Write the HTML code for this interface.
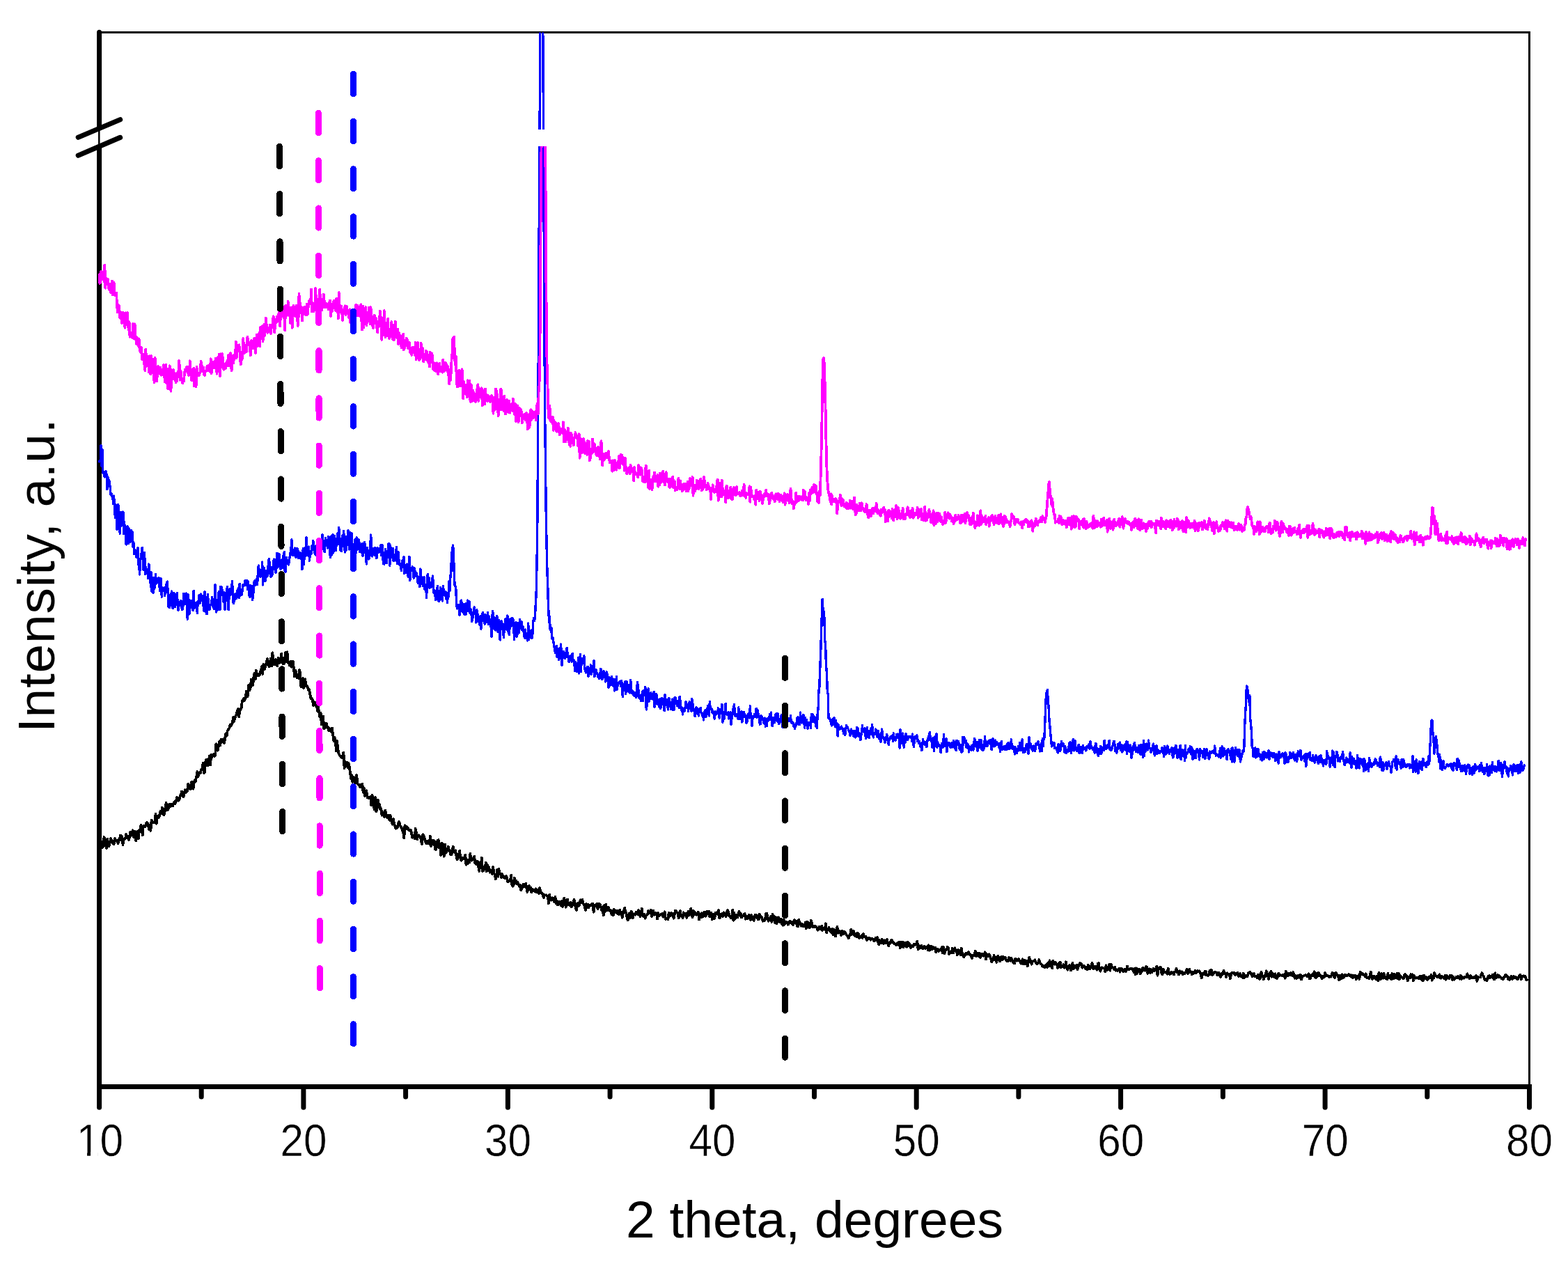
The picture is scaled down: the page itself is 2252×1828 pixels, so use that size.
<!DOCTYPE html>
<html lang="en"><head><meta charset="utf-8"><title>XRD patterns</title>
<style>html,body{margin:0;padding:0;background:#fff;overflow:hidden;}svg{display:block;}text{font-family:"Liberation Sans",sans-serif;fill:#000;}</style></head><body>
<svg width="2252" height="1828" viewBox="0 0 2252 1828" role="img" aria-label="XRD patterns: intensity versus 2 theta">
<rect width="2252" height="1828" fill="#fff"/>
<g stroke="#000" fill="none">
<line x1="144" y1="46.5" x2="2198" y2="46.5" stroke-width="3"/>
<line x1="2196.5" y1="45" x2="2196.5" y2="1560" stroke-width="3"/>
<line x1="142.6" y1="46.3" x2="142.6" y2="1590.3" stroke-width="7" stroke-linecap="round"/>
<line x1="142.6" y1="1560.5" x2="2200" y2="1560.5" stroke-width="7"/>
<line x1="289.2" y1="1560.5" x2="289.2" y2="1575.0" stroke-width="7" stroke-linecap="round"/>
<line x1="435.9" y1="1560.5" x2="435.9" y2="1590.3" stroke-width="7" stroke-linecap="round"/>
<line x1="582.6" y1="1560.5" x2="582.6" y2="1575.0" stroke-width="7" stroke-linecap="round"/>
<line x1="729.4" y1="1560.5" x2="729.4" y2="1590.3" stroke-width="7" stroke-linecap="round"/>
<line x1="876.1" y1="1560.5" x2="876.1" y2="1575.0" stroke-width="7" stroke-linecap="round"/>
<line x1="1022.8" y1="1560.5" x2="1022.8" y2="1590.3" stroke-width="7" stroke-linecap="round"/>
<line x1="1169.5" y1="1560.5" x2="1169.5" y2="1575.0" stroke-width="7" stroke-linecap="round"/>
<line x1="1316.2" y1="1560.5" x2="1316.2" y2="1590.3" stroke-width="7" stroke-linecap="round"/>
<line x1="1462.9" y1="1560.5" x2="1462.9" y2="1575.0" stroke-width="7" stroke-linecap="round"/>
<line x1="1609.6" y1="1560.5" x2="1609.6" y2="1590.3" stroke-width="7" stroke-linecap="round"/>
<line x1="1756.4" y1="1560.5" x2="1756.4" y2="1575.0" stroke-width="7" stroke-linecap="round"/>
<line x1="1903.1" y1="1560.5" x2="1903.1" y2="1590.3" stroke-width="7" stroke-linecap="round"/>
<line x1="2049.8" y1="1560.5" x2="2049.8" y2="1575.0" stroke-width="7" stroke-linecap="round"/>
<line x1="2196.5" y1="1560.5" x2="2196.5" y2="1590.3" stroke-width="7" stroke-linecap="round"/>
</g>
<polygon points="138,186.5 148,182.3 148,208 138,212.3" fill="#fff"/>
<line x1="142.3" y1="180" x2="142.3" y2="215" stroke="#000" stroke-width="2.5"/>
<g stroke="#000" stroke-width="7.2" stroke-linecap="round">
<line x1="112.3" y1="197.2" x2="172.6" y2="171.7"/>
<line x1="112.3" y1="223.2" x2="172.6" y2="197.4"/>
</g>
<defs><clipPath id="plot"><rect x="139" y="46.5" width="2059" height="1514"/></clipPath></defs>
<g clip-path="url(#plot)" fill="none" stroke-linejoin="round" stroke-linecap="round" shape-rendering="crispEdges">
<polyline stroke="#000" stroke-width="3.8" points="142.5,1217.7 143.7,1211.7 144.8,1207.9 146.0,1215.9 147.2,1216.9 148.4,1214.8 149.5,1202.1 150.7,1205.5 151.9,1214.3 153.1,1217.8 154.2,1204.8 155.4,1215.0 156.6,1215.3 157.8,1210.3 158.9,1204.2 160.1,1206.9 161.3,1207.7 162.5,1211.9 163.6,1212.5 164.8,1204.1 166.0,1207.6 167.1,1207.5 168.3,1206.6 169.5,1211.1 170.7,1205.5 171.8,1206.0 173.0,1199.5 174.2,1206.2 175.4,1201.1 176.5,1213.1 177.7,1205.1 178.9,1204.9 180.1,1204.1 181.2,1198.1 182.4,1200.9 183.6,1202.9 184.8,1206.0 185.9,1202.5 187.1,1195.2 188.3,1199.7 189.4,1199.6 190.6,1192.2 191.8,1201.6 193.0,1202.1 194.1,1194.0 195.3,1207.3 196.5,1198.3 197.7,1193.6 198.8,1204.3 200.0,1192.1 201.2,1194.6 202.4,1184.9 203.5,1187.3 204.7,1199.3 205.9,1186.0 207.1,1185.8 208.2,1187.5 209.4,1184.0 210.6,1181.2 211.7,1181.4 212.9,1184.4 214.1,1191.2 215.3,1186.9 216.4,1192.9 217.6,1177.5 218.8,1181.4 220.0,1180.9 221.1,1181.1 222.3,1181.1 223.5,1168.8 224.7,1182.7 225.8,1174.8 227.0,1171.6 228.2,1174.1 229.4,1169.1 230.5,1165.0 231.7,1168.1 232.9,1159.7 234.0,1162.5 235.2,1170.2 236.4,1167.9 237.6,1159.2 238.7,1153.0 239.9,1163.3 241.1,1163.2 242.3,1160.0 243.4,1154.5 244.6,1158.4 245.8,1155.2 247.0,1156.7 248.1,1157.4 249.3,1153.4 250.5,1151.4 251.7,1153.8 252.8,1151.3 254.0,1144.7 255.2,1147.2 256.4,1149.7 257.5,1148.1 258.7,1142.5 259.9,1142.1 261.0,1136.5 262.2,1141.5 263.4,1144.4 264.6,1139.9 265.7,1134.4 266.9,1138.5 268.1,1134.2 269.3,1136.0 270.4,1125.5 271.6,1128.3 272.8,1132.8 274.0,1133.1 275.1,1122.5 276.3,1122.5 277.5,1132.7 278.7,1123.9 279.8,1120.0 281.0,1121.7 282.2,1115.1 283.3,1108.1 284.5,1115.0 285.7,1111.6 286.9,1108.8 288.0,1110.3 289.2,1104.3 290.4,1104.6 291.6,1096.1 292.7,1109.8 293.9,1109.3 295.1,1094.7 296.3,1090.6 297.4,1098.8 298.6,1099.0 299.8,1090.8 301.0,1085.5 302.1,1098.6 303.3,1083.8 304.5,1087.3 305.6,1084.9 306.8,1083.1 308.0,1086.0 309.2,1084.7 310.3,1068.3 311.5,1073.3 312.7,1077.7 313.9,1071.1 315.0,1065.0 316.2,1070.5 317.4,1062.0 318.6,1061.9 319.7,1065.3 320.9,1062.0 322.1,1067.0 323.3,1058.9 324.4,1053.4 325.6,1056.8 326.8,1049.2 327.9,1047.8 329.1,1046.2 330.3,1041.2 331.5,1042.7 332.6,1040.1 333.8,1038.1 335.0,1030.0 336.2,1035.9 337.3,1031.3 338.5,1027.8 339.7,1025.6 340.9,1020.7 342.0,1018.3 343.2,1029.6 344.4,1018.4 345.6,1019.1 346.7,1016.3 347.9,1006.3 349.1,1007.0 350.2,1002.5 351.4,1005.7 352.6,1002.4 353.8,992.9 354.9,1000.7 356.1,998.2 357.3,983.7 358.5,991.0 359.6,988.4 360.8,975.7 362.0,976.8 363.2,983.9 364.3,972.5 365.5,966.6 366.7,975.5 367.9,962.8 369.0,970.5 370.2,970.5 371.4,967.8 372.5,969.9 373.7,964.9 374.9,962.5 376.1,956.5 377.2,967.8 378.4,954.1 379.6,961.3 380.8,957.8 381.9,954.9 383.1,949.1 384.3,946.0 385.5,954.0 386.6,957.3 387.8,953.1 389.0,945.6 390.2,956.6 391.3,937.3 392.5,949.2 393.7,954.4 394.8,954.4 396.0,947.1 397.2,954.0 398.4,956.4 399.5,944.7 400.7,952.0 401.9,945.9 403.1,951.5 404.2,938.9 405.4,949.9 406.6,953.1 407.8,952.9 408.9,947.6 410.1,936.7 411.3,950.1 412.5,936.4 413.6,951.0 414.8,952.2 416.0,955.6 417.1,949.7 418.3,957.7 419.5,953.1 420.7,949.9 421.8,958.6 423.0,971.6 424.2,962.7 425.4,965.1 426.5,973.3 427.7,972.2 428.9,974.1 430.1,962.0 431.2,967.5 432.4,986.3 433.6,977.4 434.8,974.0 435.9,987.9 437.1,985.7 438.3,975.4 439.4,984.8 440.6,984.5 441.8,986.4 443.0,991.2 444.1,989.9 445.3,997.0 446.5,1002.9 447.7,1002.6 448.8,1004.6 450.0,1013.0 451.2,1008.3 452.4,1012.7 453.5,1009.3 454.7,1009.7 455.9,1021.0 457.1,1015.1 458.2,1023.2 459.4,1029.4 460.6,1023.9 461.8,1040.1 462.9,1036.9 464.1,1028.5 465.3,1046.3 466.4,1039.6 467.6,1044.8 468.8,1038.5 470.0,1045.1 471.1,1044.1 472.3,1049.4 473.5,1046.3 474.7,1049.7 475.8,1050.8 477.0,1045.5 478.2,1055.4 479.4,1064.2 480.5,1058.8 481.7,1062.6 482.9,1078.2 484.1,1064.1 485.2,1075.0 486.4,1081.4 487.6,1084.6 488.7,1085.8 489.9,1087.6 491.1,1087.8 492.3,1084.4 493.4,1080.5 494.6,1103.2 495.8,1094.0 497.0,1098.7 498.1,1094.5 499.3,1101.9 500.5,1096.0 501.7,1101.0 502.8,1108.1 504.0,1118.2 505.2,1113.3 506.4,1123.0 507.5,1115.5 508.7,1116.9 509.9,1125.2 511.0,1119.3 512.2,1113.2 513.4,1125.3 514.6,1126.4 515.7,1126.9 516.9,1129.9 518.1,1127.3 519.3,1130.3 520.4,1125.5 521.6,1137.7 522.8,1131.8 524.0,1143.3 525.1,1138.9 526.3,1135.4 527.5,1145.0 528.7,1144.6 529.8,1146.5 531.0,1145.9 532.2,1144.1 533.3,1156.2 534.5,1141.7 535.7,1145.7 536.9,1159.1 538.0,1162.6 539.2,1145.1 540.4,1165.4 541.6,1160.7 542.7,1148.4 543.9,1156.5 545.1,1155.4 546.3,1162.7 547.4,1161.9 548.6,1170.9 549.8,1166.7 551.0,1171.3 552.1,1173.1 553.3,1163.5 554.5,1169.5 555.6,1173.9 556.8,1174.2 558.0,1170.5 559.2,1177.7 560.3,1170.4 561.5,1174.5 562.7,1181.6 563.9,1183.6 565.0,1176.0 566.2,1183.7 567.4,1186.6 568.6,1189.7 569.7,1189.2 570.9,1187.8 572.1,1182.5 573.3,1180.1 574.4,1185.2 575.6,1186.8 576.8,1188.8 577.9,1193.1 579.1,1195.2 580.3,1203.4 581.5,1185.4 582.6,1190.0 583.8,1186.6 585.0,1190.0 586.2,1189.2 587.3,1192.3 588.5,1192.8 589.7,1191.6 590.9,1194.9 592.0,1202.6 593.2,1202.6 594.4,1199.3 595.6,1204.4 596.7,1190.0 597.9,1196.0 599.1,1205.5 600.2,1200.0 601.4,1199.3 602.6,1200.9 603.8,1201.3 604.9,1207.7 606.1,1211.9 607.3,1198.3 608.5,1200.2 609.6,1203.4 610.8,1208.2 612.0,1211.0 613.2,1207.8 614.3,1210.8 615.5,1208.0 616.7,1211.9 617.9,1200.5 619.0,1214.8 620.2,1212.1 621.4,1206.8 622.5,1212.6 623.7,1207.3 624.9,1219.5 626.1,1219.9 627.2,1215.6 628.4,1207.2 629.6,1206.2 630.8,1217.1 631.9,1211.7 633.1,1227.8 634.3,1211.1 635.5,1211.3 636.6,1223.9 637.8,1229.8 639.0,1212.4 640.2,1224.9 641.3,1223.4 642.5,1220.0 643.7,1215.9 644.8,1219.5 646.0,1221.4 647.2,1226.9 648.4,1227.3 649.5,1223.4 650.7,1215.8 651.9,1222.9 653.1,1223.9 654.2,1221.4 655.4,1229.0 656.6,1234.2 657.8,1231.8 658.9,1227.1 660.1,1221.6 661.3,1232.2 662.5,1235.8 663.6,1231.9 664.8,1232.1 666.0,1233.3 667.2,1231.6 668.3,1227.6 669.5,1241.8 670.7,1238.9 671.8,1240.5 673.0,1234.6 674.2,1238.4 675.4,1225.9 676.5,1235.1 677.7,1235.6 678.9,1232.7 680.1,1233.0 681.2,1229.7 682.4,1239.8 683.6,1239.4 684.8,1241.4 685.9,1236.6 687.1,1244.1 688.3,1250.8 689.5,1239.0 690.6,1244.8 691.8,1231.4 693.0,1251.2 694.1,1250.5 695.3,1244.5 696.5,1248.1 697.7,1238.5 698.8,1251.2 700.0,1242.0 701.2,1245.6 702.4,1245.3 703.5,1252.6 704.7,1250.0 705.9,1250.7 707.1,1255.1 708.2,1245.2 709.4,1253.6 710.6,1256.3 711.8,1262.2 712.9,1258.9 714.1,1249.1 715.3,1258.7 716.4,1248.0 717.6,1253.7 718.8,1254.5 720.0,1259.7 721.1,1255.2 722.3,1257.3 723.5,1260.2 724.7,1259.3 725.8,1261.2 727.0,1257.8 728.2,1261.2 729.4,1266.4 730.5,1265.7 731.7,1264.7 732.9,1265.0 734.1,1256.5 735.2,1270.0 736.4,1272.7 737.6,1271.6 738.7,1260.7 739.9,1264.3 741.1,1264.7 742.3,1269.3 743.4,1266.5 744.6,1270.2 745.8,1273.0 747.0,1270.8 748.1,1278.3 749.3,1276.7 750.5,1273.3 751.7,1269.9 752.8,1273.5 754.0,1271.3 755.2,1268.7 756.4,1275.4 757.5,1280.9 758.7,1273.9 759.9,1272.1 761.0,1277.0 762.2,1274.5 763.4,1281.6 764.6,1277.0 765.7,1278.9 766.9,1278.2 768.1,1279.9 769.3,1276.3 770.4,1281.1 771.6,1277.9 772.8,1278.3 774.0,1283.1 775.1,1275.0 776.3,1279.5 777.5,1282.0 778.7,1282.6 779.8,1286.1 781.0,1289.3 782.2,1285.2 783.3,1285.5 784.5,1285.3 785.7,1286.4 786.9,1286.4 788.0,1297.4 789.2,1284.7 790.4,1292.2 791.6,1292.7 792.7,1292.0 793.9,1289.4 795.1,1292.6 796.3,1295.5 797.4,1288.0 798.6,1297.0 799.8,1293.7 801.0,1299.5 802.1,1294.4 803.3,1295.0 804.5,1295.5 805.6,1300.3 806.8,1294.1 808.0,1301.9 809.2,1297.2 810.3,1289.7 811.5,1295.6 812.7,1302.8 813.9,1296.9 815.0,1291.6 816.2,1299.2 817.4,1296.5 818.6,1300.0 819.7,1295.6 820.9,1302.2 822.1,1299.7 823.3,1297.8 824.4,1292.0 825.6,1295.7 826.8,1304.0 827.9,1307.1 829.1,1300.5 830.3,1297.1 831.5,1300.9 832.6,1296.6 833.8,1292.3 835.0,1296.6 836.2,1291.4 837.3,1297.3 838.5,1298.8 839.7,1301.7 840.9,1307.1 842.0,1297.7 843.2,1303.1 844.4,1298.8 845.6,1303.0 846.7,1300.4 847.9,1300.2 849.1,1299.8 850.2,1297.4 851.4,1297.4 852.6,1309.7 853.8,1299.7 854.9,1301.4 856.1,1299.4 857.3,1297.6 858.5,1305.2 859.6,1299.9 860.8,1297.8 862.0,1299.1 863.2,1303.3 864.3,1307.6 865.5,1302.4 866.7,1314.2 867.9,1300.2 869.0,1309.4 870.2,1298.9 871.4,1305.5 872.6,1307.1 873.7,1302.6 874.9,1307.3 876.1,1308.0 877.2,1307.0 878.4,1312.9 879.6,1307.9 880.8,1314.2 881.9,1305.4 883.1,1310.5 884.3,1309.5 885.5,1307.9 886.6,1311.7 887.8,1308.1 889.0,1313.0 890.2,1306.6 891.3,1311.5 892.5,1309.9 893.7,1317.7 894.9,1311.9 896.0,1307.5 897.2,1303.8 898.4,1310.1 899.5,1311.1 900.7,1318.9 901.9,1321.3 903.1,1312.6 904.2,1311.4 905.4,1318.0 906.6,1308.5 907.8,1311.0 908.9,1318.5 910.1,1312.9 911.3,1313.3 912.5,1313.6 913.6,1310.0 914.8,1310.9 916.0,1313.1 917.2,1307.1 918.3,1312.0 919.5,1316.1 920.7,1312.8 921.8,1304.6 923.0,1314.0 924.2,1316.6 925.4,1312.7 926.5,1318.8 927.7,1314.8 928.9,1314.2 930.1,1312.2 931.2,1307.9 932.4,1309.8 933.6,1311.5 934.8,1306.8 935.9,1315.9 937.1,1309.6 938.3,1307.6 939.5,1313.7 940.6,1310.7 941.8,1310.5 943.0,1311.7 944.1,1319.6 945.3,1311.2 946.5,1315.2 947.7,1314.4 948.8,1313.1 950.0,1312.8 951.2,1311.5 952.4,1316.7 953.5,1315.4 954.7,1309.3 955.9,1319.9 957.1,1318.7 958.2,1319.3 959.4,1320.2 960.6,1310.9 961.8,1314.1 962.9,1315.1 964.1,1310.9 965.3,1314.7 966.4,1311.6 967.6,1318.9 968.8,1313.1 970.0,1307.4 971.1,1308.4 972.3,1310.5 973.5,1311.0 974.7,1318.1 975.8,1310.4 977.0,1308.2 978.2,1315.4 979.4,1316.0 980.5,1318.2 981.7,1310.2 982.9,1312.5 984.1,1311.5 985.2,1315.0 986.4,1318.0 987.6,1312.0 988.7,1308.7 989.9,1313.9 991.1,1308.7 992.3,1304.9 993.4,1314.6 994.6,1317.0 995.8,1307.4 997.0,1313.6 998.1,1309.9 999.3,1311.1 1000.5,1313.8 1001.7,1312.3 1002.8,1309.6 1004.0,1320.5 1005.2,1313.0 1006.4,1317.3 1007.5,1311.2 1008.7,1316.7 1009.9,1315.6 1011.0,1310.4 1012.2,1309.5 1013.4,1315.7 1014.6,1313.5 1015.7,1308.5 1016.9,1309.5 1018.1,1308.5 1019.3,1316.5 1020.4,1315.6 1021.6,1311.0 1022.8,1320.2 1024.0,1312.7 1025.1,1316.3 1026.3,1319.1 1027.5,1310.6 1028.7,1311.3 1029.8,1310.0 1031.0,1313.1 1032.2,1307.2 1033.3,1318.6 1034.5,1316.5 1035.7,1313.5 1036.9,1312.3 1038.0,1316.1 1039.2,1310.3 1040.4,1311.1 1041.6,1313.4 1042.7,1316.0 1043.9,1309.5 1045.1,1306.9 1046.3,1310.0 1047.4,1315.6 1048.6,1316.7 1049.8,1318.5 1051.0,1318.5 1052.1,1306.5 1053.3,1321.8 1054.5,1310.8 1055.6,1319.9 1056.8,1315.5 1058.0,1313.8 1059.2,1317.2 1060.3,1312.8 1061.5,1308.7 1062.7,1314.6 1063.9,1311.7 1065.0,1317.6 1066.2,1315.7 1067.4,1315.1 1068.6,1313.0 1069.7,1312.2 1070.9,1319.7 1072.1,1315.7 1073.3,1319.0 1074.4,1318.8 1075.6,1314.1 1076.8,1315.9 1078.0,1321.1 1079.1,1314.1 1080.3,1316.9 1081.5,1320.2 1082.6,1321.9 1083.8,1315.2 1085.0,1313.6 1086.2,1317.7 1087.3,1314.9 1088.5,1320.5 1089.7,1320.5 1090.9,1312.4 1092.0,1317.7 1093.2,1315.9 1094.4,1318.7 1095.6,1322.8 1096.7,1320.6 1097.9,1322.4 1099.1,1319.5 1100.3,1311.5 1101.4,1311.7 1102.6,1318.9 1103.8,1322.7 1104.9,1319.3 1106.1,1321.1 1107.3,1315.6 1108.5,1323.9 1109.6,1313.0 1110.8,1316.7 1112.0,1316.2 1113.2,1325.2 1114.3,1317.1 1115.5,1326.1 1116.7,1321.6 1117.9,1317.3 1119.0,1319.1 1120.2,1324.6 1121.4,1319.9 1122.6,1326.8 1123.7,1320.9 1124.9,1328.7 1126.1,1321.1 1127.2,1327.1 1128.4,1324.2 1129.6,1323.8 1130.8,1325.3 1131.9,1327.6 1133.1,1325.5 1134.3,1322.8 1135.5,1325.0 1136.6,1325.9 1137.8,1323.6 1139.0,1328.3 1140.2,1322.5 1141.3,1321.2 1142.5,1325.8 1143.7,1322.6 1144.9,1329.4 1146.0,1330.6 1147.2,1320.4 1148.4,1327.0 1149.5,1326.1 1150.7,1329.6 1151.9,1326.8 1153.1,1330.4 1154.2,1327.7 1155.4,1330.4 1156.6,1325.0 1157.8,1333.2 1158.9,1323.4 1160.1,1324.1 1161.3,1330.1 1162.5,1332.4 1163.6,1330.4 1164.8,1321.9 1166.0,1325.4 1167.2,1331.0 1168.3,1330.6 1169.5,1331.1 1170.7,1329.9 1171.8,1330.3 1173.0,1331.8 1174.2,1335.7 1175.4,1334.1 1176.5,1330.5 1177.7,1334.3 1178.9,1333.5 1180.1,1329.7 1181.2,1336.0 1182.4,1333.7 1183.6,1332.5 1184.8,1335.0 1185.9,1326.3 1187.1,1339.5 1188.3,1333.5 1189.5,1333.4 1190.6,1331.9 1191.8,1336.2 1193.0,1337.8 1194.1,1339.3 1195.3,1333.9 1196.5,1342.4 1197.7,1334.9 1198.8,1336.7 1200.0,1344.6 1201.2,1339.6 1202.4,1331.0 1203.5,1338.2 1204.7,1339.8 1205.9,1336.8 1207.1,1339.2 1208.2,1342.9 1209.4,1336.7 1210.6,1337.4 1211.8,1341.5 1212.9,1338.3 1214.1,1339.0 1215.3,1341.4 1216.4,1343.6 1217.6,1343.8 1218.8,1347.4 1220.0,1343.7 1221.1,1342.5 1222.3,1334.6 1223.5,1341.6 1224.7,1339.7 1225.8,1336.9 1227.0,1342.4 1228.2,1344.0 1229.4,1340.8 1230.5,1345.2 1231.7,1339.7 1232.9,1341.2 1234.1,1347.2 1235.2,1345.7 1236.4,1345.7 1237.6,1343.3 1238.7,1346.9 1239.9,1341.0 1241.1,1344.9 1242.3,1345.6 1243.4,1344.7 1244.6,1349.8 1245.8,1349.5 1247.0,1346.9 1248.1,1346.5 1249.3,1347.5 1250.5,1349.7 1251.7,1348.3 1252.8,1348.2 1254.0,1349.1 1255.2,1351.4 1256.4,1349.9 1257.5,1346.9 1258.7,1350.4 1259.9,1345.9 1261.0,1352.9 1262.2,1356.6 1263.4,1350.1 1264.6,1352.9 1265.7,1354.1 1266.9,1348.6 1268.1,1353.3 1269.3,1355.0 1270.4,1350.3 1271.6,1354.1 1272.8,1353.3 1274.0,1348.8 1275.1,1354.7 1276.3,1358.2 1277.5,1353.3 1278.7,1354.3 1279.8,1350.3 1281.0,1350.2 1282.2,1352.0 1283.4,1354.6 1284.5,1355.2 1285.7,1355.4 1286.9,1357.2 1288.0,1356.3 1289.2,1354.3 1290.4,1357.5 1291.6,1352.9 1292.7,1361.1 1293.9,1353.2 1295.1,1355.8 1296.3,1352.8 1297.4,1360.5 1298.6,1357.9 1299.8,1353.9 1301.0,1354.1 1302.1,1359.7 1303.3,1352.5 1304.5,1357.8 1305.7,1354.2 1306.8,1358.6 1308.0,1361.2 1309.2,1357.8 1310.3,1359.6 1311.5,1359.3 1312.7,1355.6 1313.9,1357.1 1315.0,1356.3 1316.2,1355.1 1317.4,1351.5 1318.6,1363.5 1319.7,1357.7 1320.9,1360.9 1322.1,1361.0 1323.3,1357.7 1324.4,1361.4 1325.6,1362.0 1326.8,1359.2 1328.0,1358.6 1329.1,1362.0 1330.3,1361.3 1331.5,1359.4 1332.6,1364.0 1333.8,1357.3 1335.0,1364.7 1336.2,1362.1 1337.3,1358.4 1338.5,1363.4 1339.7,1359.9 1340.9,1362.5 1342.0,1362.1 1343.2,1360.6 1344.4,1367.3 1345.6,1362.9 1346.7,1362.7 1347.9,1366.2 1349.1,1365.2 1350.3,1363.7 1351.4,1364.7 1352.6,1360.4 1353.8,1368.5 1354.9,1359.7 1356.1,1369.4 1357.3,1366.7 1358.5,1363.8 1359.6,1363.0 1360.8,1359.9 1362.0,1360.8 1363.2,1370.1 1364.3,1368.2 1365.5,1368.5 1366.7,1368.1 1367.9,1361.8 1369.0,1368.7 1370.2,1364.2 1371.4,1361.3 1372.6,1365.2 1373.7,1365.7 1374.9,1371.3 1376.1,1364.1 1377.2,1364.5 1378.4,1367.4 1379.6,1371.2 1380.8,1361.5 1381.9,1368.5 1383.1,1371.7 1384.3,1374.2 1385.5,1370.4 1386.6,1371.7 1387.8,1368.6 1389.0,1368.9 1390.2,1369.8 1391.3,1367.1 1392.5,1370.5 1393.7,1371.1 1394.9,1373.5 1396.0,1376.1 1397.2,1371.9 1398.4,1372.4 1399.5,1372.4 1400.7,1365.9 1401.9,1373.0 1403.1,1371.9 1404.2,1369.2 1405.4,1373.4 1406.6,1368.5 1407.8,1374.9 1408.9,1370.8 1410.1,1369.5 1411.3,1371.9 1412.5,1372.8 1413.6,1369.6 1414.8,1367.4 1416.0,1377.6 1417.2,1370.0 1418.3,1372.1 1419.5,1373.1 1420.7,1370.4 1421.8,1373.3 1423.0,1375.9 1424.2,1381.6 1425.4,1379.5 1426.5,1378.3 1427.7,1372.0 1428.9,1378.6 1430.1,1374.4 1431.2,1381.8 1432.4,1373.7 1433.6,1372.9 1434.8,1377.5 1435.9,1380.6 1437.1,1374.4 1438.3,1373.7 1439.5,1378.3 1440.6,1373.9 1441.8,1376.7 1443.0,1374.6 1444.1,1375.7 1445.3,1379.2 1446.5,1380.2 1447.7,1379.9 1448.8,1375.2 1450.0,1379.0 1451.2,1379.7 1452.4,1375.6 1453.5,1377.9 1454.7,1381.2 1455.9,1382.6 1457.1,1383.3 1458.2,1376.8 1459.4,1377.5 1460.6,1379.8 1461.8,1378.4 1462.9,1376.8 1464.1,1379.8 1465.3,1380.6 1466.4,1383.7 1467.6,1380.7 1468.8,1377.3 1470.0,1384.4 1471.1,1378.7 1472.3,1384.1 1473.5,1381.1 1474.7,1379.5 1475.8,1387.2 1477.0,1380.4 1478.2,1374.9 1479.4,1379.0 1480.5,1380.0 1481.7,1384.7 1482.9,1381.2 1484.1,1380.2 1485.2,1380.0 1486.4,1378.4 1487.6,1382.2 1488.8,1383.9 1489.9,1384.3 1491.1,1382.7 1492.3,1378.1 1493.4,1381.6 1494.6,1384.4 1495.8,1384.3 1497.0,1387.7 1498.1,1387.5 1499.3,1386.9 1500.5,1389.3 1501.7,1386.8 1502.8,1385.0 1504.0,1388.8 1505.2,1382.8 1506.4,1387.3 1507.5,1379.3 1508.7,1384.6 1509.9,1387.9 1511.1,1390.5 1512.2,1379.4 1513.4,1381.7 1514.6,1384.7 1515.7,1381.7 1516.9,1384.2 1518.1,1385.8 1519.3,1390.0 1520.4,1383.2 1521.6,1387.6 1522.8,1381.4 1524.0,1389.4 1525.1,1387.4 1526.3,1387.8 1527.5,1385.2 1528.7,1389.8 1529.8,1388.4 1531.0,1381.3 1532.2,1390.4 1533.4,1392.6 1534.5,1388.3 1535.7,1386.2 1536.9,1387.6 1538.0,1393.6 1539.2,1386.2 1540.4,1382.9 1541.6,1391.5 1542.7,1389.1 1543.9,1387.3 1545.1,1389.0 1546.3,1385.8 1547.4,1392.0 1548.6,1389.1 1549.8,1386.2 1551.0,1382.7 1552.1,1383.8 1553.3,1384.8 1554.5,1389.7 1555.7,1388.6 1556.8,1386.7 1558.0,1389.1 1559.2,1391.4 1560.3,1388.9 1561.5,1392.3 1562.7,1385.9 1563.9,1388.4 1565.0,1391.5 1566.2,1388.0 1567.4,1388.8 1568.6,1382.6 1569.7,1390.8 1570.9,1391.0 1572.1,1387.8 1573.3,1388.2 1574.4,1390.1 1575.6,1392.7 1576.8,1383.5 1578.0,1383.1 1579.1,1392.0 1580.3,1394.7 1581.5,1390.5 1582.6,1389.2 1583.8,1389.9 1585.0,1390.5 1586.2,1391.0 1587.3,1395.4 1588.5,1386.3 1589.7,1393.0 1590.9,1391.7 1592.0,1392.5 1593.2,1384.8 1594.4,1393.7 1595.6,1384.6 1596.7,1387.9 1597.9,1389.1 1599.1,1390.1 1600.3,1391.8 1601.4,1389.0 1602.6,1393.7 1603.8,1392.9 1604.9,1394.0 1606.1,1392.8 1607.3,1390.9 1608.5,1395.6 1609.6,1391.3 1610.8,1391.2 1612.0,1393.5 1613.2,1395.3 1614.3,1394.7 1615.5,1391.5 1616.7,1394.9 1617.9,1393.4 1619.0,1387.4 1620.2,1392.6 1621.4,1392.0 1622.6,1391.2 1623.7,1391.4 1624.9,1391.0 1626.1,1391.3 1627.2,1393.0 1628.4,1396.1 1629.6,1390.9 1630.8,1399.0 1631.9,1390.3 1633.1,1397.8 1634.3,1391.4 1635.5,1393.1 1636.6,1392.0 1637.8,1398.6 1639.0,1392.4 1640.2,1394.6 1641.3,1389.8 1642.5,1392.8 1643.7,1390.6 1644.9,1393.6 1646.0,1388.1 1647.2,1388.7 1648.4,1397.9 1649.5,1393.3 1650.7,1391.3 1651.9,1396.9 1653.1,1392.0 1654.2,1396.2 1655.4,1393.7 1656.6,1391.1 1657.8,1394.5 1658.9,1391.7 1660.1,1390.7 1661.3,1387.7 1662.5,1400.8 1663.6,1389.7 1664.8,1391.7 1666.0,1388.9 1667.2,1389.4 1668.3,1397.4 1669.5,1399.5 1670.7,1391.7 1671.8,1394.7 1673.0,1396.5 1674.2,1396.0 1675.4,1396.6 1676.5,1398.6 1677.7,1390.6 1678.9,1397.0 1680.1,1398.9 1681.2,1398.3 1682.4,1395.8 1683.6,1397.1 1684.8,1397.1 1685.9,1399.6 1687.1,1395.3 1688.3,1395.5 1689.5,1390.9 1690.6,1396.0 1691.8,1394.9 1693.0,1399.6 1694.2,1394.3 1695.3,1397.5 1696.5,1397.1 1697.7,1395.4 1698.8,1399.2 1700.0,1396.7 1701.2,1398.2 1702.4,1396.2 1703.5,1395.8 1704.7,1391.8 1705.9,1397.8 1707.1,1396.3 1708.2,1391.6 1709.4,1396.0 1710.6,1395.5 1711.8,1399.5 1712.9,1396.0 1714.1,1397.9 1715.3,1396.4 1716.5,1393.9 1717.6,1397.5 1718.8,1396.3 1720.0,1393.9 1721.1,1394.9 1722.3,1394.3 1723.5,1396.6 1724.7,1399.1 1725.8,1404.4 1727.0,1398.3 1728.2,1398.7 1729.4,1399.5 1730.5,1394.7 1731.7,1394.5 1732.9,1400.5 1734.1,1399.6 1735.2,1400.8 1736.4,1398.7 1737.6,1393.8 1738.8,1398.6 1739.9,1392.7 1741.1,1399.9 1742.3,1399.3 1743.4,1396.3 1744.6,1396.3 1745.8,1396.2 1747.0,1396.3 1748.1,1399.8 1749.3,1400.3 1750.5,1396.9 1751.7,1399.4 1752.8,1403.0 1754.0,1398.0 1755.2,1399.9 1756.4,1396.6 1757.5,1393.7 1758.7,1398.2 1759.9,1397.4 1761.1,1402.9 1762.2,1397.3 1763.4,1399.2 1764.6,1399.2 1765.7,1398.9 1766.9,1405.3 1768.1,1399.7 1769.3,1396.8 1770.4,1396.9 1771.6,1397.8 1772.8,1397.1 1774.0,1400.2 1775.1,1398.1 1776.3,1398.1 1777.5,1396.8 1778.7,1401.9 1779.8,1399.9 1781.0,1398.4 1782.2,1402.1 1783.4,1401.9 1784.5,1403.6 1785.7,1397.8 1786.9,1404.2 1788.0,1402.3 1789.2,1400.9 1790.4,1402.6 1791.6,1402.3 1792.7,1397.9 1793.9,1396.8 1795.1,1395.6 1796.3,1398.0 1797.4,1398.0 1798.6,1402.2 1799.8,1399.2 1801.0,1398.3 1802.1,1402.1 1803.3,1401.6 1804.5,1401.6 1805.7,1404.4 1806.8,1399.6 1808.0,1399.9 1809.2,1405.8 1810.3,1404.3 1811.5,1395.8 1812.7,1400.4 1813.9,1401.6 1815.0,1406.4 1816.2,1400.7 1817.4,1402.2 1818.6,1394.4 1819.7,1400.9 1820.9,1398.4 1822.1,1406.0 1823.3,1397.1 1824.4,1400.8 1825.6,1394.9 1826.8,1402.8 1828.0,1398.2 1829.1,1402.4 1830.3,1403.3 1831.5,1398.3 1832.6,1404.5 1833.8,1404.9 1835.0,1402.5 1836.2,1397.8 1837.3,1401.2 1838.5,1399.6 1839.7,1400.3 1840.9,1401.0 1842.0,1400.2 1843.2,1401.6 1844.4,1399.5 1845.6,1404.8 1846.7,1394.5 1847.9,1399.3 1849.1,1401.4 1850.3,1397.6 1851.4,1399.9 1852.6,1400.4 1853.8,1397.0 1854.9,1399.4 1856.1,1400.9 1857.3,1396.2 1858.5,1400.9 1859.6,1404.8 1860.8,1401.1 1862.0,1405.1 1863.2,1404.2 1864.3,1400.6 1865.5,1402.5 1866.7,1403.9 1867.9,1399.6 1869.0,1406.7 1870.2,1403.1 1871.4,1401.9 1872.6,1401.2 1873.7,1400.7 1874.9,1400.0 1876.1,1400.9 1877.2,1402.4 1878.4,1399.6 1879.6,1398.3 1880.8,1405.4 1881.9,1405.5 1883.1,1401.1 1884.3,1400.8 1885.5,1398.4 1886.6,1401.3 1887.8,1395.4 1889.0,1403.5 1890.2,1403.8 1891.3,1398.1 1892.5,1401.8 1893.7,1397.1 1894.9,1400.7 1896.0,1399.9 1897.2,1401.9 1898.4,1405.0 1899.6,1404.3 1900.7,1401.8 1901.9,1403.1 1903.1,1396.9 1904.2,1400.4 1905.4,1401.2 1906.6,1401.1 1907.8,1402.1 1908.9,1403.0 1910.1,1401.5 1911.3,1402.7 1912.5,1400.1 1913.6,1396.8 1914.8,1400.2 1916.0,1403.0 1917.2,1403.8 1918.3,1396.7 1919.5,1397.9 1920.7,1400.1 1921.9,1401.1 1923.0,1406.9 1924.2,1400.5 1925.4,1405.8 1926.5,1405.2 1927.7,1399.4 1928.9,1404.1 1930.1,1403.5 1931.2,1399.6 1932.4,1401.2 1933.6,1400.4 1934.8,1401.0 1935.9,1400.3 1937.1,1398.8 1938.3,1401.3 1939.5,1400.3 1940.6,1402.7 1941.8,1400.3 1943.0,1404.0 1944.2,1400.4 1945.3,1402.5 1946.5,1401.0 1947.7,1406.3 1948.8,1401.9 1950.0,1402.8 1951.2,1400.4 1952.4,1405.9 1953.5,1396.0 1954.7,1396.7 1955.9,1399.1 1957.1,1397.9 1958.2,1399.9 1959.4,1400.5 1960.6,1402.0 1961.8,1398.3 1962.9,1403.9 1964.1,1404.0 1965.3,1404.0 1966.5,1405.0 1967.6,1400.4 1968.8,1396.0 1970.0,1403.6 1971.1,1406.0 1972.3,1401.5 1973.5,1404.1 1974.7,1402.3 1975.8,1405.8 1977.0,1401.9 1978.2,1403.3 1979.4,1408.5 1980.5,1396.6 1981.7,1401.7 1982.9,1406.2 1984.1,1398.1 1985.2,1402.6 1986.4,1404.7 1987.6,1397.9 1988.8,1401.6 1989.9,1404.7 1991.1,1404.0 1992.3,1406.2 1993.4,1398.0 1994.6,1404.2 1995.8,1401.3 1997.0,1400.9 1998.1,1406.2 1999.3,1398.1 2000.5,1403.4 2001.7,1405.5 2002.8,1399.0 2004.0,1404.5 2005.2,1401.5 2006.4,1397.9 2007.5,1405.1 2008.7,1397.9 2009.9,1406.2 2011.1,1400.8 2012.2,1402.0 2013.4,1403.7 2014.6,1404.7 2015.7,1405.1 2016.9,1400.6 2018.1,1399.0 2019.3,1401.9 2020.4,1401.1 2021.6,1408.5 2022.8,1403.3 2024.0,1403.5 2025.1,1404.4 2026.3,1399.2 2027.5,1401.6 2028.7,1399.3 2029.8,1408.0 2031.0,1401.3 2032.2,1403.5 2033.4,1404.7 2034.5,1403.7 2035.7,1403.9 2036.9,1404.8 2038.0,1404.9 2039.2,1401.8 2040.4,1404.4 2041.6,1406.8 2042.7,1402.0 2043.9,1408.6 2045.1,1400.4 2046.3,1402.3 2047.4,1405.2 2048.6,1403.3 2049.8,1407.0 2051.0,1405.7 2052.1,1403.0 2053.3,1404.2 2054.5,1402.7 2055.7,1400.0 2056.8,1407.8 2058.0,1403.2 2059.2,1404.4 2060.3,1397.0 2061.5,1400.6 2062.7,1401.8 2063.9,1402.0 2065.0,1403.4 2066.2,1401.9 2067.4,1399.4 2068.6,1404.2 2069.7,1404.7 2070.9,1402.3 2072.1,1402.4 2073.3,1403.5 2074.4,1405.2 2075.6,1400.6 2076.8,1406.8 2078.0,1401.1 2079.1,1402.8 2080.3,1403.8 2081.5,1405.1 2082.6,1400.8 2083.8,1403.4 2085.0,1401.0 2086.2,1406.8 2087.3,1402.9 2088.5,1406.8 2089.7,1405.6 2090.9,1404.0 2092.0,1402.5 2093.2,1403.9 2094.4,1402.2 2095.6,1403.9 2096.7,1405.7 2097.9,1400.4 2099.1,1405.8 2100.3,1403.4 2101.4,1403.6 2102.6,1404.7 2103.8,1402.7 2105.0,1402.7 2106.1,1403.5 2107.3,1398.4 2108.5,1401.0 2109.6,1402.5 2110.8,1405.3 2112.0,1401.0 2113.2,1404.6 2114.3,1403.3 2115.5,1404.2 2116.7,1403.1 2117.9,1403.8 2119.0,1403.7 2120.2,1401.0 2121.4,1408.9 2122.6,1402.6 2123.7,1403.6 2124.9,1403.5 2126.1,1403.4 2127.3,1399.3 2128.4,1397.2 2129.6,1400.2 2130.8,1402.2 2131.9,1405.6 2133.1,1407.6 2134.3,1405.7 2135.5,1408.1 2136.6,1405.6 2137.8,1401.4 2139.0,1401.2 2140.2,1403.9 2141.3,1402.0 2142.5,1402.6 2143.7,1400.0 2144.9,1404.5 2146.0,1406.5 2147.2,1397.3 2148.4,1404.4 2149.6,1402.5 2150.7,1400.2 2151.9,1403.6 2153.1,1401.0 2154.2,1403.0 2155.4,1403.3 2156.6,1405.0 2157.8,1405.5 2158.9,1406.4 2160.1,1402.7 2161.3,1402.2 2162.5,1399.6 2163.6,1402.1 2164.8,1401.9 2166.0,1405.9 2167.2,1403.6 2168.3,1406.8 2169.5,1404.1 2170.7,1402.0 2171.9,1406.1 2173.0,1403.3 2174.2,1402.0 2175.4,1404.0 2176.5,1402.8 2177.7,1403.8 2178.9,1405.7 2180.1,1406.2 2181.2,1403.3 2182.4,1400.9 2183.6,1400.0 2184.8,1406.2 2185.9,1402.5 2187.1,1402.3 2188.3,1401.3 2189.5,1402.1 2190.6,1401.8 2191.8,1406.6 2193.0,1407.1"/>
<polyline stroke="#00f" stroke-width="3.4" points="142.5,663.1 143.4,661.3 144.3,660.3 145.1,639.6 146.0,669.1 146.9,645.7 147.8,678.3 148.7,677.6 149.5,682.3 150.4,684.8 151.3,682.2 152.2,676.6 153.1,681.6 153.9,702.6 154.8,684.7 155.7,691.2 156.6,689.3 157.5,694.9 158.3,701.0 159.2,710.8 160.1,709.4 161.0,712.8 161.9,713.8 162.7,723.8 163.6,712.1 164.5,728.5 165.4,743.4 166.3,724.9 167.1,734.2 168.0,760.6 168.9,728.8 169.8,724.4 170.7,738.1 171.5,762.1 172.4,766.1 173.3,735.4 174.2,754.9 175.1,751.0 176.0,746.8 176.8,735.0 177.7,766.3 178.6,749.3 179.5,762.7 180.4,762.3 181.2,781.9 182.1,776.8 183.0,755.4 183.9,766.1 184.8,780.8 185.6,759.0 186.5,770.1 187.4,778.0 188.3,761.4 189.2,766.9 190.0,764.0 190.9,785.5 191.8,778.8 192.7,795.3 193.6,789.0 194.4,795.3 195.3,790.5 196.2,800.6 197.1,793.9 198.0,787.0 198.8,810.4 199.7,810.3 200.6,824.9 201.5,803.0 202.4,800.5 203.2,793.8 204.1,786.2 205.0,798.9 205.9,818.5 206.8,806.7 207.6,793.4 208.5,824.8 209.4,814.5 210.3,818.3 211.2,819.1 212.0,823.3 212.9,830.7 213.8,810.1 214.7,826.3 215.6,824.7 216.4,842.2 217.3,821.9 218.2,849.5 219.1,840.5 220.0,851.6 220.8,829.6 221.7,845.6 222.6,842.2 223.5,824.8 224.4,837.9 225.2,836.9 226.1,832.7 227.0,835.4 227.9,829.5 228.8,839.8 229.6,848.4 230.5,838.0 231.4,830.9 232.3,857.2 233.2,843.8 234.0,848.3 234.9,846.2 235.8,843.7 236.7,855.4 237.6,844.7 238.5,850.7 239.3,836.6 240.2,835.2 241.1,848.0 242.0,871.2 242.9,854.6 243.7,872.4 244.6,858.3 245.5,858.8 246.4,849.2 247.3,855.3 248.1,873.8 249.0,868.4 249.9,851.2 250.8,853.3 251.7,871.8 252.5,854.1 253.4,868.8 254.3,851.4 255.2,867.1 256.1,876.4 256.9,870.1 257.8,864.8 258.7,864.2 259.6,862.3 260.5,863.2 261.3,875.3 262.2,875.3 263.1,868.2 264.0,852.1 264.9,859.6 265.7,867.8 266.6,865.6 267.5,852.0 268.4,872.0 269.3,889.2 270.1,853.7 271.0,866.6 271.9,882.0 272.8,862.1 273.7,862.4 274.5,868.2 275.4,872.2 276.3,862.7 277.2,876.5 278.1,848.3 278.9,873.5 279.8,870.8 280.7,865.8 281.6,871.3 282.5,868.1 283.3,880.7 284.2,863.3 285.1,867.5 286.0,854.4 286.9,857.1 287.7,865.9 288.6,853.1 289.5,860.1 290.4,855.4 291.3,863.6 292.1,869.6 293.0,877.8 293.9,849.5 294.8,866.5 295.7,876.8 296.6,881.7 297.4,881.7 298.3,853.7 299.2,862.4 300.1,872.6 301.0,875.8 301.8,869.0 302.7,868.5 303.6,867.8 304.5,857.5 305.4,866.2 306.2,872.1 307.1,860.5 308.0,874.9 308.9,839.6 309.8,859.5 310.6,879.0 311.5,870.6 312.4,875.9 313.3,863.0 314.2,849.7 315.0,856.0 315.9,875.6 316.8,842.5 317.7,850.9 318.6,843.2 319.4,854.4 320.3,855.2 321.2,864.7 322.1,850.7 323.0,875.1 323.8,864.4 324.7,853.1 325.6,847.7 326.5,842.4 327.4,857.8 328.2,875.5 329.1,854.2 330.0,845.3 330.9,854.2 331.8,849.3 332.6,845.0 333.5,834.8 334.4,852.2 335.3,866.7 336.2,863.6 337.0,860.7 337.9,852.7 338.8,854.7 339.7,859.4 340.6,848.6 341.4,851.4 342.3,844.3 343.2,858.8 344.1,838.3 345.0,853.6 345.8,854.9 346.7,854.3 347.6,852.8 348.5,841.0 349.4,839.7 350.2,840.8 351.1,840.8 352.0,833.2 352.9,839.4 353.8,837.2 354.6,833.8 355.5,846.2 356.4,834.9 357.3,844.2 358.2,855.6 359.1,857.2 359.9,840.5 360.8,849.7 361.7,841.7 362.6,861.7 363.5,854.0 364.3,848.2 365.2,835.1 366.1,833.5 367.0,840.5 367.9,834.2 368.7,831.3 369.6,839.7 370.5,820.1 371.4,812.0 372.3,820.8 373.1,818.6 374.0,828.2 374.9,819.8 375.8,825.5 376.7,807.0 377.5,840.0 378.4,828.7 379.3,815.6 380.2,826.1 381.1,834.0 381.9,829.3 382.8,819.3 383.7,825.1 384.6,826.8 385.5,805.5 386.3,802.4 387.2,809.7 388.1,824.1 389.0,828.1 389.9,814.3 390.7,826.8 391.6,821.2 392.5,810.2 393.4,803.0 394.3,803.3 395.1,809.7 396.0,822.0 396.9,815.9 397.8,794.5 398.7,794.7 399.5,813.9 400.4,807.4 401.3,795.8 402.2,811.0 403.1,817.2 403.9,811.3 404.8,804.1 405.7,815.6 406.6,798.5 407.5,796.1 408.3,792.6 409.2,819.5 410.1,821.4 411.0,800.1 411.9,806.0 412.7,804.3 413.6,808.7 414.5,810.9 415.4,805.7 416.3,798.0 417.1,793.6 418.0,788.5 418.9,774.9 419.8,797.0 420.7,789.6 421.6,797.7 422.4,796.2 423.3,787.1 424.2,792.0 425.1,800.6 426.0,798.0 426.8,787.7 427.7,788.7 428.6,801.3 429.5,798.0 430.4,798.5 431.2,793.8 432.1,802.3 433.0,795.9 433.9,817.7 434.8,790.2 435.6,787.8 436.5,810.3 437.4,793.5 438.3,786.5 439.2,798.0 440.0,771.3 440.9,797.7 441.8,793.4 442.7,795.5 443.6,785.0 444.4,805.1 445.3,795.3 446.2,791.8 447.1,795.2 448.0,783.4 448.8,789.9 449.7,776.5 450.6,780.0 451.5,793.2 452.4,791.2 453.2,796.9 454.1,783.1 455.0,788.1 455.9,782.3 456.8,791.0 457.6,795.8 458.5,798.2 459.4,793.1 460.3,779.7 461.2,788.9 462.0,776.6 462.9,767.8 463.8,787.5 464.7,786.2 465.6,792.2 466.4,792.6 467.3,772.6 468.2,775.3 469.1,783.6 470.0,784.0 470.8,787.0 471.7,770.3 472.6,780.2 473.5,788.5 474.4,800.3 475.2,770.0 476.1,797.2 477.0,778.9 477.9,767.7 478.8,793.9 479.6,770.9 480.5,769.8 481.4,787.6 482.3,790.5 483.2,781.1 484.1,773.5 484.9,766.0 485.8,781.2 486.7,757.8 487.6,766.1 488.5,790.0 489.3,785.8 490.2,791.5 491.1,783.8 492.0,769.0 492.9,784.4 493.7,762.7 494.6,786.6 495.5,793.0 496.4,770.6 497.3,789.9 498.1,780.6 499.0,778.8 499.9,761.7 500.8,779.1 501.7,788.9 502.5,764.5 503.4,776.3 504.3,774.4 505.2,765.8 506.1,791.2 506.9,781.6 507.8,782.0 508.7,791.1 509.6,774.9 510.5,805.4 511.3,778.2 512.2,771.9 513.1,789.1 514.0,787.1 514.9,774.8 515.7,775.7 516.6,792.4 517.5,787.6 518.4,789.1 519.3,793.7 520.1,780.1 521.0,798.0 521.9,786.7 522.8,793.4 523.7,778.2 524.5,794.1 525.4,789.9 526.3,810.0 527.2,786.3 528.1,802.2 528.9,794.0 529.8,802.9 530.7,790.7 531.6,793.1 532.5,768.1 533.3,777.0 534.2,798.9 535.1,793.2 536.0,796.7 536.9,787.2 537.7,797.1 538.6,786.7 539.5,789.7 540.4,801.7 541.3,800.6 542.1,786.8 543.0,791.5 543.9,793.4 544.8,790.1 545.7,790.7 546.6,783.1 547.4,797.3 548.3,782.6 549.2,783.5 550.1,804.4 551.0,809.8 551.8,810.2 552.7,796.7 553.6,788.8 554.5,800.9 555.4,808.6 556.2,795.8 557.1,791.4 558.0,780.2 558.9,780.4 559.8,812.2 560.6,783.4 561.5,791.3 562.4,795.2 563.3,800.7 564.2,787.2 565.0,804.9 565.9,805.6 566.8,801.6 567.7,795.9 568.6,798.9 569.4,785.3 570.3,809.3 571.2,799.5 572.1,792.4 573.0,805.3 573.8,810.9 574.7,810.5 575.6,813.8 576.5,819.6 577.4,805.2 578.2,812.6 579.1,814.2 580.0,799.6 580.9,823.7 581.8,811.8 582.6,817.9 583.5,819.3 584.4,810.1 585.3,825.8 586.2,828.0 587.0,821.5 587.9,799.1 588.8,833.6 589.7,820.6 590.6,816.6 591.4,817.8 592.3,813.8 593.2,820.8 594.1,830.1 595.0,815.1 595.8,827.4 596.7,820.7 597.6,824.2 598.5,823.7 599.4,830.2 600.2,837.0 601.1,828.4 602.0,837.0 602.9,842.8 603.8,817.1 604.7,837.7 605.5,828.6 606.4,830.3 607.3,841.4 608.2,831.3 609.1,828.5 609.9,846.1 610.8,845.0 611.7,840.1 612.6,858.7 613.5,829.1 614.3,824.2 615.2,837.5 616.1,830.1 617.0,844.2 617.9,836.4 618.7,837.0 619.6,843.0 620.5,836.1 621.4,827.1 622.3,838.3 623.1,851.5 624.0,847.9 624.9,854.6 625.8,861.8 626.7,855.1 627.5,847.4 628.4,841.7 629.3,852.9 630.2,863.5 631.1,862.3 631.9,858.5 632.8,843.7 633.7,856.3 634.6,857.9 635.5,863.0 636.3,841.5 637.2,847.1 638.1,854.9 639.0,855.3 639.9,849.3 640.7,859.5 641.6,852.9 642.5,865.5 643.4,851.6 644.3,857.0 645.1,834.4 646.0,848.1 646.9,828.0 647.8,821.1 648.7,793.1 649.5,794.1 650.4,783.1 651.3,789.1 652.2,821.3 653.1,840.7 653.9,841.8 654.8,845.4 655.7,868.4 656.6,873.9 657.5,872.8 658.3,868.5 659.2,868.6 660.1,883.6 661.0,877.1 661.9,863.0 662.7,862.2 663.6,877.6 664.5,879.1 665.4,868.0 666.3,867.3 667.2,882.8 668.0,872.2 668.9,882.7 669.8,866.4 670.7,868.0 671.6,862.2 672.4,877.2 673.3,874.5 674.2,864.0 675.1,880.2 676.0,874.8 676.8,877.9 677.7,892.2 678.6,889.0 679.5,885.3 680.4,878.7 681.2,871.8 682.1,876.8 683.0,879.6 683.9,894.0 684.8,875.8 685.6,879.5 686.5,884.5 687.4,888.3 688.3,894.6 689.2,897.2 690.0,885.0 690.9,903.1 691.8,892.9 692.7,880.9 693.6,879.7 694.4,884.9 695.3,886.8 696.2,896.1 697.1,882.9 698.0,885.4 698.8,883.5 699.7,893.4 700.6,879.3 701.5,896.7 702.4,885.7 703.2,891.0 704.1,896.9 705.0,896.2 705.9,914.4 706.8,886.8 707.6,877.3 708.5,884.2 709.4,902.6 710.3,886.9 711.2,904.9 712.0,894.8 712.9,903.2 713.8,884.4 714.7,906.3 715.6,907.6 716.4,890.3 717.3,909.5 718.2,918.9 719.1,898.9 720.0,891.3 720.8,894.3 721.7,897.1 722.6,908.2 723.5,915.2 724.4,896.6 725.2,898.4 726.1,888.8 727.0,896.2 727.9,904.6 728.8,884.1 729.7,906.7 730.5,908.6 731.4,911.3 732.3,896.6 733.2,888.5 734.1,899.3 734.9,893.1 735.8,887.2 736.7,895.7 737.6,890.6 738.5,918.2 739.3,908.6 740.2,909.8 741.1,893.4 742.0,914.1 742.9,899.8 743.7,910.1 744.6,894.8 745.5,908.5 746.4,889.7 747.3,902.3 748.1,901.9 749.0,892.9 749.9,904.6 750.8,899.9 751.7,901.5 752.5,911.1 753.4,915.9 754.3,904.0 755.2,916.4 756.1,914.4 756.9,912.7 757.8,920.0 758.7,895.0 759.6,918.6 760.5,911.3 761.3,905.4 762.2,907.7 763.1,916.7 764.0,916.0 764.9,909.9 765.7,892.5 766.6,887.9 767.5,891.7 768.4,887.4 769.3,867.5 770.1,855.0 771.0,811.5 771.9,744.9 772.8,588.7 773.7,442.6 774.5,262.6 775.4,132.9 776.3,-358.0 777.2,-1320.4 778.1,-1528.0 778.9,-434.8 779.8,50.7 780.7,231.3 781.6,411.5 782.5,581.9 783.3,650.3 784.2,735.3 785.1,784.1 786.0,822.9 786.9,846.2 787.7,883.3 788.6,877.8 789.5,902.6 790.4,896.8 791.3,907.4 792.2,902.1 793.0,917.3 793.9,915.6 794.8,921.6 795.7,926.6 796.6,931.7 797.4,937.1 798.3,932.9 799.2,927.4 800.1,943.3 801.0,936.3 801.8,931.4 802.7,947.7 803.6,939.7 804.5,943.7 805.4,925.0 806.2,934.1 807.1,955.5 808.0,944.1 808.9,944.5 809.8,935.6 810.6,940.7 811.5,945.3 812.4,942.3 813.3,942.5 814.2,930.2 815.0,938.3 815.9,941.5 816.8,950.0 817.7,950.2 818.6,946.6 819.4,941.5 820.3,942.1 821.2,950.2 822.1,938.3 823.0,947.6 823.8,947.4 824.7,948.4 825.6,963.8 826.5,950.3 827.4,958.6 828.2,964.8 829.1,957.0 830.0,953.5 830.9,944.3 831.8,967.0 832.6,946.5 833.5,939.8 834.4,964.3 835.3,945.2 836.2,947.8 837.0,952.0 837.9,948.9 838.8,941.8 839.7,960.5 840.6,963.2 841.4,965.8 842.3,960.2 843.2,957.9 844.1,957.4 845.0,971.2 845.8,968.8 846.7,959.6 847.6,965.7 848.5,954.9 849.4,968.2 850.2,956.7 851.1,964.2 852.0,964.0 852.9,948.5 853.8,971.8 854.7,966.9 855.5,961.7 856.4,962.6 857.3,967.7 858.2,967.7 859.1,972.7 859.9,970.9 860.8,974.7 861.7,972.4 862.6,960.6 863.5,960.9 864.3,975.3 865.2,975.2 866.1,972.6 867.0,963.3 867.9,968.1 868.7,967.7 869.6,979.0 870.5,968.5 871.4,964.8 872.3,969.3 873.1,977.8 874.0,987.5 874.9,972.5 875.8,984.8 876.7,973.6 877.5,974.0 878.4,971.3 879.3,983.7 880.2,974.6 881.1,985.5 881.9,975.9 882.8,992.0 883.7,981.2 884.6,980.3 885.5,971.6 886.3,990.1 887.2,983.2 888.1,982.0 889.0,981.9 889.9,978.6 890.7,978.8 891.6,985.4 892.5,977.5 893.4,982.7 894.3,1000.4 895.1,983.6 896.0,982.9 896.9,991.9 897.8,978.8 898.7,996.3 899.5,986.8 900.4,978.9 901.3,986.7 902.2,983.3 903.1,993.7 903.9,986.0 904.8,995.0 905.7,976.7 906.6,987.8 907.5,995.5 908.3,995.6 909.2,993.0 910.1,998.5 911.0,999.2 911.9,994.2 912.8,996.3 913.6,1001.7 914.5,997.0 915.4,979.3 916.3,985.8 917.2,992.8 918.0,1002.7 918.9,998.9 919.8,1003.5 920.7,1006.4 921.6,1003.6 922.4,993.6 923.3,1006.6 924.2,991.6 925.1,992.4 926.0,998.7 926.8,986.2 927.7,1014.0 928.6,1019.1 929.5,1001.7 930.4,1000.5 931.2,988.8 932.1,1007.3 933.0,999.0 933.9,995.7 934.8,994.7 935.6,1003.7 936.5,1003.2 937.4,1004.0 938.3,1000.9 939.2,993.4 940.0,1015.4 940.9,1011.3 941.8,1001.9 942.7,996.8 943.6,999.4 944.4,1011.3 945.3,1010.2 946.2,1008.9 947.1,1015.3 948.0,1003.6 948.8,1017.3 949.7,1008.9 950.6,1002.8 951.5,1011.6 952.4,1010.5 953.2,1003.8 954.1,1020.9 955.0,997.8 955.9,1010.9 956.8,1012.1 957.6,1004.7 958.5,1010.1 959.4,1018.9 960.3,1002.7 961.2,1003.2 962.0,1008.4 962.9,1014.4 963.8,1018.7 964.7,1015.3 965.6,1004.1 966.4,1019.4 967.3,1016.9 968.2,1019.2 969.1,1001.5 970.0,1001.5 970.8,1008.4 971.7,1010.1 972.6,1013.3 973.5,1006.3 974.4,1006.7 975.3,1016.8 976.1,1000.1 977.0,1006.6 977.9,1014.8 978.8,1019.8 979.7,1016.9 980.5,1025.9 981.4,1017.6 982.3,1020.4 983.2,1021.4 984.1,1016.5 984.9,1007.8 985.8,1014.7 986.7,1015.4 987.6,1011.3 988.5,1021.5 989.3,1013.8 990.2,1007.8 991.1,1017.6 992.0,1011.2 992.9,1021.4 993.7,1003.4 994.6,1007.2 995.5,1018.5 996.4,1020.2 997.3,1019.3 998.1,1028.7 999.0,1017.5 999.9,1015.9 1000.8,1024.7 1001.7,1017.4 1002.5,1022.2 1003.4,1028.0 1004.3,1018.9 1005.2,1019.4 1006.1,1016.4 1006.9,1023.0 1007.8,1024.6 1008.7,1027.4 1009.6,1025.2 1010.5,1033.9 1011.3,1022.2 1012.2,1022.2 1013.1,1019.7 1014.0,1029.9 1014.9,1022.4 1015.7,1020.2 1016.6,1013.8 1017.5,1021.4 1018.4,1027.9 1019.3,1007.6 1020.1,1015.6 1021.0,1016.9 1021.9,1017.7 1022.8,1023.3 1023.7,1020.7 1024.5,1024.1 1025.4,1025.2 1026.3,1032.1 1027.2,1022.0 1028.1,1026.0 1028.9,1022.4 1029.8,1025.0 1030.7,1021.9 1031.6,1016.9 1032.5,1026.8 1033.3,1031.3 1034.2,1018.6 1035.1,1024.4 1036.0,1024.5 1036.9,1011.3 1037.8,1037.1 1038.6,1034.2 1039.5,1032.5 1040.4,1031.4 1041.3,1019.8 1042.2,1010.3 1043.0,1025.0 1043.9,1026.0 1044.8,1023.8 1045.7,1022.8 1046.6,1031.9 1047.4,1030.7 1048.3,1025.7 1049.2,1022.8 1050.1,1040.4 1051.0,1031.3 1051.8,1026.8 1052.7,1018.1 1053.6,1016.6 1054.5,1011.5 1055.4,1024.9 1056.2,1028.4 1057.1,1025.6 1058.0,1026.8 1058.9,1028.4 1059.8,1032.2 1060.6,1015.9 1061.5,1019.3 1062.4,1032.8 1063.3,1029.1 1064.2,1030.5 1065.0,1021.2 1065.9,1037.0 1066.8,1028.4 1067.7,1026.3 1068.6,1022.3 1069.4,1029.2 1070.3,1029.1 1071.2,1027.4 1072.1,1038.4 1073.0,1035.8 1073.8,1028.4 1074.7,1025.0 1075.6,1025.9 1076.5,1030.9 1077.4,1013.9 1078.2,1030.9 1079.1,1027.7 1080.0,1042.5 1080.9,1032.1 1081.8,1028.4 1082.6,1029.8 1083.5,1025.7 1084.4,1025.4 1085.3,1029.4 1086.2,1017.4 1087.0,1030.0 1087.9,1019.6 1088.8,1025.7 1089.7,1025.7 1090.6,1034.7 1091.4,1040.2 1092.3,1039.4 1093.2,1027.6 1094.1,1029.3 1095.0,1031.1 1095.8,1031.9 1096.7,1038.0 1097.6,1035.3 1098.5,1031.1 1099.4,1043.2 1100.3,1037.0 1101.1,1042.9 1102.0,1031.2 1102.9,1035.2 1103.8,1033.8 1104.7,1032.9 1105.5,1025.4 1106.4,1033.6 1107.3,1023.0 1108.2,1034.6 1109.1,1042.9 1109.9,1039.4 1110.8,1034.3 1111.7,1030.7 1112.6,1037.4 1113.5,1026.3 1114.3,1025.3 1115.2,1024.8 1116.1,1035.4 1117.0,1024.9 1117.9,1036.8 1118.7,1039.5 1119.6,1037.5 1120.5,1032.7 1121.4,1036.1 1122.3,1026.2 1123.1,1034.9 1124.0,1044.1 1124.9,1042.8 1125.8,1024.2 1126.7,1033.6 1127.5,1032.1 1128.4,1039.8 1129.3,1036.0 1130.2,1033.8 1131.1,1030.6 1131.9,1035.6 1132.8,1033.9 1133.7,1035.3 1134.6,1034.1 1135.5,1027.6 1136.3,1037.8 1137.2,1038.2 1138.1,1036.9 1139.0,1037.3 1139.9,1043.3 1140.7,1042.6 1141.6,1046.2 1142.5,1040.4 1143.4,1041.5 1144.3,1036.8 1145.1,1030.2 1146.0,1029.6 1146.9,1040.0 1147.8,1037.7 1148.7,1040.4 1149.5,1023.1 1150.4,1035.9 1151.3,1037.9 1152.2,1035.0 1153.1,1035.7 1153.9,1026.4 1154.8,1036.7 1155.7,1045.1 1156.6,1030.5 1157.5,1040.9 1158.3,1033.2 1159.2,1038.7 1160.1,1046.3 1161.0,1038.0 1161.9,1039.9 1162.8,1041.6 1163.6,1037.4 1164.5,1045.2 1165.4,1025.4 1166.3,1035.4 1167.2,1025.7 1168.0,1027.8 1168.9,1036.7 1169.8,1029.0 1170.7,1033.3 1171.6,1043.0 1172.4,1036.5 1173.3,1045.3 1174.2,1025.0 1175.1,1018.1 1176.0,990.8 1176.8,987.3 1177.7,961.5 1178.6,940.0 1179.5,909.4 1180.4,881.6 1181.2,860.4 1182.1,877.2 1183.0,877.5 1183.9,887.1 1184.8,919.6 1185.6,926.5 1186.5,955.6 1187.4,965.6 1188.3,992.4 1189.2,996.8 1190.0,1031.8 1190.9,1030.8 1191.8,1032.0 1192.7,1034.7 1193.6,1039.0 1194.4,1041.8 1195.3,1039.5 1196.2,1032.1 1197.1,1040.4 1198.0,1030.5 1198.8,1038.3 1199.7,1043.4 1200.6,1034.8 1201.5,1044.5 1202.4,1039.3 1203.2,1057.0 1204.1,1040.7 1205.0,1046.3 1205.9,1047.4 1206.8,1044.9 1207.6,1046.4 1208.5,1043.2 1209.4,1045.9 1210.3,1046.5 1211.2,1050.8 1212.0,1053.8 1212.9,1046.4 1213.8,1055.4 1214.7,1047.2 1215.6,1041.8 1216.4,1045.2 1217.3,1044.1 1218.2,1047.0 1219.1,1049.1 1220.0,1050.2 1220.9,1056.2 1221.7,1053.8 1222.6,1047.0 1223.5,1053.1 1224.4,1049.5 1225.3,1054.8 1226.1,1057.7 1227.0,1049.8 1227.9,1055.2 1228.8,1059.0 1229.7,1053.2 1230.5,1044.6 1231.4,1050.6 1232.3,1046.1 1233.2,1057.5 1234.1,1053.0 1234.9,1053.8 1235.8,1062.6 1236.7,1056.6 1237.6,1053.1 1238.5,1041.7 1239.3,1049.4 1240.2,1048.6 1241.1,1051.7 1242.0,1045.6 1242.9,1056.7 1243.7,1060.6 1244.6,1051.2 1245.5,1044.7 1246.4,1054.2 1247.3,1052.3 1248.1,1059.7 1249.0,1053.6 1249.9,1049.6 1250.8,1046.0 1251.7,1054.4 1252.5,1040.6 1253.4,1048.0 1254.3,1058.9 1255.2,1053.9 1256.1,1054.7 1256.9,1053.7 1257.8,1047.1 1258.7,1053.1 1259.6,1058.2 1260.5,1058.7 1261.3,1049.7 1262.2,1056.4 1263.1,1061.5 1264.0,1057.7 1264.9,1065.3 1265.7,1056.6 1266.6,1047.0 1267.5,1056.7 1268.4,1057.9 1269.3,1061.0 1270.1,1060.2 1271.0,1066.3 1271.9,1061.1 1272.8,1058.8 1273.7,1054.8 1274.5,1056.6 1275.4,1065.7 1276.3,1069.4 1277.2,1060.5 1278.1,1059.7 1278.9,1057.5 1279.8,1060.2 1280.7,1059.3 1281.6,1056.2 1282.5,1064.4 1283.4,1052.9 1284.2,1060.3 1285.1,1060.5 1286.0,1063.5 1286.9,1058.9 1287.8,1054.3 1288.6,1059.4 1289.5,1054.1 1290.4,1058.1 1291.3,1055.8 1292.2,1074.3 1293.0,1047.9 1293.9,1053.6 1294.8,1067.7 1295.7,1059.5 1296.6,1052.9 1297.4,1064.5 1298.3,1073.1 1299.2,1061.3 1300.1,1066.2 1301.0,1053.5 1301.8,1057.9 1302.7,1062.6 1303.6,1062.5 1304.5,1057.7 1305.4,1058.3 1306.2,1058.1 1307.1,1057.3 1308.0,1058.7 1308.9,1058.7 1309.8,1064.6 1310.6,1053.9 1311.5,1065.0 1312.4,1072.4 1313.3,1063.3 1314.2,1059.8 1315.0,1057.2 1315.9,1059.7 1316.8,1055.8 1317.7,1064.3 1318.6,1062.3 1319.4,1067.4 1320.3,1064.7 1321.2,1067.9 1322.1,1072.1 1323.0,1069.1 1323.8,1077.5 1324.7,1070.5 1325.6,1061.5 1326.5,1067.8 1327.4,1068.9 1328.2,1065.3 1329.1,1069.1 1330.0,1068.3 1330.9,1072.8 1331.8,1064.7 1332.6,1060.1 1333.5,1063.2 1334.4,1054.7 1335.3,1051.6 1336.2,1060.0 1337.0,1063.1 1337.9,1062.2 1338.8,1073.2 1339.7,1060.2 1340.6,1059.6 1341.4,1078.2 1342.3,1058.0 1343.2,1071.4 1344.1,1066.5 1345.0,1053.3 1345.9,1073.1 1346.7,1065.7 1347.6,1069.9 1348.5,1069.1 1349.4,1069.9 1350.3,1073.2 1351.1,1080.7 1352.0,1069.8 1352.9,1067.2 1353.8,1073.6 1354.7,1071.1 1355.5,1054.4 1356.4,1071.2 1357.3,1066.4 1358.2,1067.3 1359.1,1060.4 1359.9,1079.8 1360.8,1071.7 1361.7,1066.3 1362.6,1066.5 1363.5,1067.9 1364.3,1068.4 1365.2,1073.7 1366.1,1071.4 1367.0,1066.3 1367.9,1067.9 1368.7,1072.8 1369.6,1063.8 1370.5,1067.1 1371.4,1075.0 1372.3,1069.6 1373.1,1077.9 1374.0,1063.1 1374.9,1067.1 1375.8,1065.1 1376.7,1064.9 1377.5,1074.2 1378.4,1076.0 1379.3,1070.6 1380.2,1069.4 1381.1,1080.4 1381.9,1079.4 1382.8,1058.3 1383.7,1069.7 1384.6,1058.6 1385.5,1061.4 1386.3,1066.4 1387.2,1063.6 1388.1,1073.6 1389.0,1067.8 1389.9,1068.8 1390.7,1069.7 1391.6,1080.1 1392.5,1071.9 1393.4,1075.4 1394.3,1073.1 1395.1,1077.0 1396.0,1070.3 1396.9,1069.7 1397.8,1077.3 1398.7,1070.9 1399.5,1060.7 1400.4,1062.6 1401.3,1067.3 1402.2,1072.6 1403.1,1065.3 1403.9,1078.3 1404.8,1072.0 1405.7,1068.1 1406.6,1062.6 1407.5,1073.5 1408.4,1073.0 1409.2,1062.8 1410.1,1076.9 1411.0,1076.3 1411.9,1077.8 1412.8,1069.1 1413.6,1074.6 1414.5,1057.5 1415.4,1071.6 1416.3,1066.8 1417.2,1068.6 1418.0,1071.7 1418.9,1065.1 1419.8,1068.0 1420.7,1063.4 1421.6,1064.6 1422.4,1062.7 1423.3,1071.1 1424.2,1076.4 1425.1,1063.8 1426.0,1060.3 1426.8,1068.2 1427.7,1071.8 1428.6,1071.1 1429.5,1063.1 1430.4,1069.9 1431.2,1065.2 1432.1,1067.7 1433.0,1069.5 1433.9,1067.9 1434.8,1073.1 1435.6,1067.8 1436.5,1079.4 1437.4,1071.6 1438.3,1064.7 1439.2,1076.8 1440.0,1076.2 1440.9,1073.0 1441.8,1071.6 1442.7,1073.7 1443.6,1076.7 1444.4,1071.2 1445.3,1076.7 1446.2,1068.9 1447.1,1075.0 1448.0,1066.6 1448.8,1074.3 1449.7,1075.6 1450.6,1069.4 1451.5,1074.5 1452.4,1061.9 1453.2,1071.9 1454.1,1070.9 1455.0,1075.9 1455.9,1072.2 1456.8,1078.1 1457.6,1083.1 1458.5,1072.9 1459.4,1077.3 1460.3,1081.8 1461.2,1077.7 1462.0,1078.5 1462.9,1071.2 1463.8,1074.5 1464.7,1066.7 1465.6,1077.2 1466.4,1074.7 1467.3,1074.7 1468.2,1061.9 1469.1,1078.0 1470.0,1080.8 1470.9,1080.1 1471.7,1074.9 1472.6,1079.7 1473.5,1072.5 1474.4,1068.7 1475.3,1072.0 1476.1,1068.2 1477.0,1082.0 1477.9,1058.5 1478.8,1073.5 1479.7,1067.3 1480.5,1069.0 1481.4,1076.0 1482.3,1071.6 1483.2,1078.0 1484.1,1071.1 1484.9,1071.2 1485.8,1072.4 1486.7,1078.7 1487.6,1067.9 1488.5,1069.9 1489.3,1068.6 1490.2,1069.0 1491.1,1064.7 1492.0,1069.7 1492.9,1073.8 1493.7,1079.0 1494.6,1073.7 1495.5,1067.7 1496.4,1078.6 1497.3,1060.6 1498.1,1071.9 1499.0,1060.0 1499.9,1059.5 1500.8,1039.0 1501.7,1015.4 1502.5,995.3 1503.4,994.5 1504.3,990.7 1505.2,1005.9 1506.1,1015.2 1506.9,1033.2 1507.8,1042.3 1508.7,1053.1 1509.6,1061.1 1510.5,1072.0 1511.3,1070.8 1512.2,1066.2 1513.1,1070.0 1514.0,1066.6 1514.9,1074.7 1515.7,1073.5 1516.6,1073.7 1517.5,1076.4 1518.4,1075.8 1519.3,1080.9 1520.1,1068.9 1521.0,1077.2 1521.9,1072.3 1522.8,1078.4 1523.7,1070.6 1524.5,1064.4 1525.4,1071.2 1526.3,1070.1 1527.2,1067.7 1528.1,1071.6 1529.0,1080.0 1529.8,1071.9 1530.7,1077.5 1531.6,1081.3 1532.5,1079.5 1533.4,1076.4 1534.2,1078.9 1535.1,1071.5 1536.0,1066.8 1536.9,1065.6 1537.8,1079.0 1538.6,1081.3 1539.5,1072.3 1540.4,1074.1 1541.3,1061.3 1542.2,1077.9 1543.0,1073.3 1543.9,1063.7 1544.8,1076.6 1545.7,1077.2 1546.6,1078.5 1547.4,1073.3 1548.3,1075.4 1549.2,1069.2 1550.1,1081.7 1551.0,1072.2 1551.8,1080.9 1552.7,1077.0 1553.6,1072.8 1554.5,1081.2 1555.4,1070.5 1556.2,1076.1 1557.1,1074.9 1558.0,1073.4 1558.9,1075.2 1559.8,1078.0 1560.6,1072.1 1561.5,1071.5 1562.4,1073.1 1563.3,1071.2 1564.2,1068.8 1565.0,1075.6 1565.9,1064.6 1566.8,1073.5 1567.7,1071.4 1568.6,1074.8 1569.4,1076.4 1570.3,1075.2 1571.2,1073.8 1572.1,1081.0 1573.0,1071.0 1573.8,1067.3 1574.7,1072.5 1575.6,1077.6 1576.5,1083.7 1577.4,1085.3 1578.2,1075.9 1579.1,1080.3 1580.0,1082.8 1580.9,1071.4 1581.8,1082.2 1582.6,1076.5 1583.5,1073.5 1584.4,1077.1 1585.3,1077.7 1586.2,1063.2 1587.0,1074.5 1587.9,1075.3 1588.8,1070.3 1589.7,1075.0 1590.6,1071.9 1591.5,1069.6 1592.3,1073.3 1593.2,1063.2 1594.1,1076.3 1595.0,1076.9 1595.9,1075.6 1596.7,1076.9 1597.6,1071.6 1598.5,1070.8 1599.4,1064.3 1600.3,1064.5 1601.1,1069.8 1602.0,1078.9 1602.9,1073.8 1603.8,1081.2 1604.7,1078.1 1605.5,1068.4 1606.4,1070.8 1607.3,1068.1 1608.2,1066.1 1609.1,1075.4 1609.9,1077.7 1610.8,1069.2 1611.7,1079.9 1612.6,1079.0 1613.5,1071.2 1614.3,1076.2 1615.2,1069.1 1616.1,1074.5 1617.0,1077.3 1617.9,1064.5 1618.7,1082.6 1619.6,1065.4 1620.5,1075.2 1621.4,1072.1 1622.3,1079.6 1623.1,1070.1 1624.0,1072.3 1624.9,1088.2 1625.8,1084.4 1626.7,1079.9 1627.5,1071.4 1628.4,1077.2 1629.3,1066.3 1630.2,1071.1 1631.1,1077.8 1631.9,1079.8 1632.8,1073.7 1633.7,1079.6 1634.6,1080.2 1635.5,1070.3 1636.3,1077.1 1637.2,1075.5 1638.1,1083.7 1639.0,1069.1 1639.9,1078.4 1640.7,1075.1 1641.6,1087.2 1642.5,1063.6 1643.4,1085.5 1644.3,1075.2 1645.1,1079.2 1646.0,1068.1 1646.9,1069.2 1647.8,1075.0 1648.7,1076.9 1649.5,1063.1 1650.4,1072.9 1651.3,1074.1 1652.2,1075.7 1653.1,1080.4 1654.0,1078.4 1654.8,1075.3 1655.7,1070.1 1656.6,1068.0 1657.5,1077.4 1658.4,1085.0 1659.2,1077.1 1660.1,1082.1 1661.0,1070.9 1661.9,1082.2 1662.8,1076.1 1663.6,1077.8 1664.5,1080.9 1665.4,1081.5 1666.3,1078.9 1667.2,1079.6 1668.0,1079.3 1668.9,1073.7 1669.8,1075.9 1670.7,1077.7 1671.6,1086.7 1672.4,1071.3 1673.3,1078.3 1674.2,1083.3 1675.1,1081.6 1676.0,1072.9 1676.8,1071.1 1677.7,1075.1 1678.6,1079.7 1679.5,1082.6 1680.4,1077.0 1681.2,1078.9 1682.1,1076.1 1683.0,1073.7 1683.9,1085.0 1684.8,1087.9 1685.6,1077.6 1686.5,1074.0 1687.4,1082.1 1688.3,1070.6 1689.2,1071.3 1690.0,1079.5 1690.9,1088.6 1691.8,1076.7 1692.7,1079.1 1693.6,1087.3 1694.4,1072.5 1695.3,1070.5 1696.2,1090.8 1697.1,1084.6 1698.0,1076.9 1698.8,1082.0 1699.7,1084.1 1700.6,1077.8 1701.5,1092.5 1702.4,1070.4 1703.2,1088.2 1704.1,1081.6 1705.0,1080.5 1705.9,1080.9 1706.8,1076.1 1707.6,1078.5 1708.5,1076.9 1709.4,1071.8 1710.3,1083.0 1711.2,1072.5 1712.0,1074.5 1712.9,1090.4 1713.8,1077.0 1714.7,1088.3 1715.6,1087.1 1716.5,1081.1 1717.3,1088.5 1718.2,1076.9 1719.1,1075.2 1720.0,1077.5 1720.9,1078.1 1721.7,1082.8 1722.6,1090.9 1723.5,1075.6 1724.4,1078.7 1725.3,1080.1 1726.1,1081.7 1727.0,1078.5 1727.9,1087.8 1728.8,1078.2 1729.7,1075.3 1730.5,1089.6 1731.4,1088.2 1732.3,1080.4 1733.2,1075.7 1734.1,1081.5 1734.9,1084.6 1735.8,1089.2 1736.7,1089.8 1737.6,1079.2 1738.5,1081.3 1739.3,1079.8 1740.2,1081.2 1741.1,1078.4 1742.0,1079.0 1742.9,1080.1 1743.7,1081.6 1744.6,1071.1 1745.5,1078.8 1746.4,1085.1 1747.3,1083.5 1748.1,1084.9 1749.0,1085.2 1749.9,1084.1 1750.8,1086.9 1751.7,1081.4 1752.5,1074.6 1753.4,1088.1 1754.3,1083.2 1755.2,1071.9 1756.1,1085.9 1756.9,1085.6 1757.8,1074.2 1758.7,1083.7 1759.6,1081.1 1760.5,1083.4 1761.3,1078.3 1762.2,1090.6 1763.1,1076.2 1764.0,1075.7 1764.9,1079.0 1765.7,1081.1 1766.6,1078.3 1767.5,1089.5 1768.4,1075.9 1769.3,1094.0 1770.1,1073.7 1771.0,1083.9 1771.9,1091.0 1772.8,1094.1 1773.7,1080.4 1774.5,1073.4 1775.4,1077.7 1776.3,1078.7 1777.2,1085.2 1778.1,1076.3 1779.0,1086.6 1779.8,1076.3 1780.7,1085.7 1781.6,1094.1 1782.5,1085.1 1783.4,1087.2 1784.2,1081.3 1785.1,1077.5 1786.0,1079.3 1786.9,1072.6 1787.8,1040.3 1788.6,1024.2 1789.5,1010.7 1790.4,985.1 1791.3,985.8 1792.2,993.7 1793.0,1003.0 1793.9,1007.7 1794.8,998.5 1795.7,1032.3 1796.6,1040.6 1797.4,1049.8 1798.3,1073.7 1799.2,1073.8 1800.1,1086.5 1801.0,1077.7 1801.8,1086.7 1802.7,1073.9 1803.6,1088.0 1804.5,1075.5 1805.4,1084.0 1806.2,1086.4 1807.1,1075.6 1808.0,1085.3 1808.9,1082.3 1809.8,1085.5 1810.6,1090.3 1811.5,1085.1 1812.4,1092.0 1813.3,1080.8 1814.2,1080.2 1815.0,1090.6 1815.9,1079.8 1816.8,1087.5 1817.7,1081.0 1818.6,1085.3 1819.4,1087.9 1820.3,1081.7 1821.2,1082.0 1822.1,1077.9 1823.0,1090.2 1823.8,1081.0 1824.7,1080.6 1825.6,1085.4 1826.5,1083.9 1827.4,1081.4 1828.2,1087.6 1829.1,1086.3 1830.0,1082.1 1830.9,1083.1 1831.8,1092.7 1832.6,1086.4 1833.5,1083.0 1834.4,1085.3 1835.3,1088.8 1836.2,1096.2 1837.1,1079.6 1837.9,1088.3 1838.8,1083.0 1839.7,1087.7 1840.6,1083.1 1841.5,1082.2 1842.3,1082.1 1843.2,1083.5 1844.1,1087.7 1845.0,1096.5 1845.9,1080.9 1846.7,1081.9 1847.6,1083.9 1848.5,1094.7 1849.4,1094.4 1850.3,1094.2 1851.1,1089.5 1852.0,1086.6 1852.9,1080.3 1853.8,1087.1 1854.7,1088.4 1855.5,1084.4 1856.4,1083.4 1857.3,1080.5 1858.2,1089.1 1859.1,1086.3 1859.9,1091.9 1860.8,1083.6 1861.7,1083.9 1862.6,1093.4 1863.5,1087.6 1864.3,1078.8 1865.2,1083.3 1866.1,1081.8 1867.0,1086.3 1867.9,1077.2 1868.7,1091.0 1869.6,1091.0 1870.5,1087.0 1871.4,1087.1 1872.3,1087.2 1873.1,1085.0 1874.0,1093.6 1874.9,1082.5 1875.8,1100.7 1876.7,1082.2 1877.5,1089.6 1878.4,1083.0 1879.3,1084.1 1880.2,1087.3 1881.1,1080.3 1881.9,1091.3 1882.8,1089.5 1883.7,1091.5 1884.6,1092.7 1885.5,1084.4 1886.3,1087.8 1887.2,1087.6 1888.1,1095.0 1889.0,1088.4 1889.9,1084.5 1890.7,1091.0 1891.6,1087.0 1892.5,1094.0 1893.4,1096.7 1894.3,1094.8 1895.1,1085.4 1896.0,1094.4 1896.9,1085.0 1897.8,1087.9 1898.7,1095.0 1899.6,1091.2 1900.4,1100.0 1901.3,1094.6 1902.2,1091.2 1903.1,1096.4 1904.0,1090.9 1904.8,1097.4 1905.7,1078.6 1906.6,1090.0 1907.5,1085.6 1908.4,1089.9 1909.2,1087.7 1910.1,1101.1 1911.0,1093.9 1911.9,1090.4 1912.8,1095.7 1913.6,1078.1 1914.5,1098.4 1915.4,1080.1 1916.3,1092.0 1917.2,1101.7 1918.0,1085.2 1918.9,1086.6 1919.8,1079.5 1920.7,1081.6 1921.6,1093.0 1922.4,1092.5 1923.3,1089.2 1924.2,1093.7 1925.1,1089.4 1926.0,1087.1 1926.8,1089.8 1927.7,1085.7 1928.6,1079.7 1929.5,1090.8 1930.4,1094.5 1931.2,1098.7 1932.1,1095.9 1933.0,1090.9 1933.9,1088.1 1934.8,1092.2 1935.6,1094.5 1936.5,1092.6 1937.4,1090.2 1938.3,1095.1 1939.2,1080.8 1940.0,1096.6 1940.9,1102.5 1941.8,1086.6 1942.7,1096.7 1943.6,1091.4 1944.4,1089.6 1945.3,1097.3 1946.2,1097.1 1947.1,1092.9 1948.0,1103.3 1948.8,1096.9 1949.7,1084.4 1950.6,1102.4 1951.5,1095.0 1952.4,1103.0 1953.2,1089.2 1954.1,1089.7 1955.0,1092.2 1955.9,1096.5 1956.8,1098.7 1957.6,1090.8 1958.5,1107.6 1959.4,1089.9 1960.3,1092.8 1961.2,1105.9 1962.1,1105.3 1962.9,1103.4 1963.8,1097.4 1964.7,1096.1 1965.6,1107.5 1966.5,1088.7 1967.3,1092.4 1968.2,1095.8 1969.1,1096.7 1970.0,1101.4 1970.9,1096.3 1971.7,1097.4 1972.6,1098.4 1973.5,1094.3 1974.4,1097.2 1975.3,1089.8 1976.1,1091.1 1977.0,1096.1 1977.9,1094.3 1978.8,1099.5 1979.7,1096.5 1980.5,1097.7 1981.4,1101.4 1982.3,1087.1 1983.2,1090.5 1984.1,1094.8 1984.9,1106.1 1985.8,1094.3 1986.7,1106.2 1987.6,1102.0 1988.5,1097.3 1989.3,1099.0 1990.2,1099.9 1991.1,1094.6 1992.0,1104.7 1992.9,1099.3 1993.7,1097.0 1994.6,1093.8 1995.5,1100.1 1996.4,1100.1 1997.3,1101.6 1998.1,1109.3 1999.0,1100.6 1999.9,1094.0 2000.8,1093.8 2001.7,1090.7 2002.5,1092.2 2003.4,1090.5 2004.3,1102.5 2005.2,1085.7 2006.1,1105.0 2006.9,1094.1 2007.8,1090.3 2008.7,1093.1 2009.6,1097.2 2010.5,1097.8 2011.3,1094.9 2012.2,1103.1 2013.1,1090.7 2014.0,1092.7 2014.9,1101.4 2015.7,1090.8 2016.6,1093.5 2017.5,1100.5 2018.4,1100.9 2019.3,1100.9 2020.1,1101.3 2021.0,1097.7 2021.9,1098.9 2022.8,1098.6 2023.7,1097.6 2024.6,1102.9 2025.4,1098.1 2026.3,1102.6 2027.2,1098.1 2028.1,1102.9 2029.0,1085.8 2029.8,1108.8 2030.7,1093.5 2031.6,1096.4 2032.5,1095.6 2033.4,1108.2 2034.2,1090.6 2035.1,1096.5 2036.0,1096.9 2036.9,1110.7 2037.8,1105.6 2038.6,1093.7 2039.5,1096.8 2040.4,1099.0 2041.3,1094.1 2042.2,1105.8 2043.0,1099.9 2043.9,1089.3 2044.8,1098.6 2045.7,1097.8 2046.6,1095.5 2047.4,1099.3 2048.3,1101.5 2049.2,1096.2 2050.1,1094.0 2051.0,1098.6 2051.8,1086.2 2052.7,1096.5 2053.6,1074.3 2054.5,1063.8 2055.4,1040.5 2056.2,1034.1 2057.1,1035.1 2058.0,1054.9 2058.9,1058.4 2059.8,1082.1 2060.6,1076.3 2061.5,1070.7 2062.4,1057.8 2063.3,1065.9 2064.2,1071.7 2065.0,1083.4 2065.9,1084.9 2066.8,1094.3 2067.7,1083.9 2068.6,1103.4 2069.4,1091.5 2070.3,1102.9 2071.2,1105.8 2072.1,1102.3 2073.0,1092.8 2073.8,1100.7 2074.7,1102.8 2075.6,1103.3 2076.5,1101.5 2077.4,1099.8 2078.2,1097.8 2079.1,1098.1 2080.0,1100.4 2080.9,1099.2 2081.8,1098.1 2082.6,1097.8 2083.5,1100.1 2084.4,1096.8 2085.3,1104.8 2086.2,1100.3 2087.1,1106.2 2087.9,1096.3 2088.8,1095.4 2089.7,1097.3 2090.6,1099.6 2091.5,1100.3 2092.3,1105.5 2093.2,1089.5 2094.1,1101.8 2095.0,1091.9 2095.9,1095.7 2096.7,1099.6 2097.6,1100.9 2098.5,1107.7 2099.4,1099.6 2100.3,1107.3 2101.1,1104.3 2102.0,1100.1 2102.9,1106.0 2103.8,1098.9 2104.7,1104.2 2105.5,1111.3 2106.4,1105.2 2107.3,1101.3 2108.2,1098.1 2109.1,1100.2 2109.9,1098.5 2110.8,1111.2 2111.7,1106.4 2112.6,1102.9 2113.5,1104.6 2114.3,1112.6 2115.2,1101.2 2116.1,1100.8 2117.0,1110.6 2117.9,1106.5 2118.7,1097.4 2119.6,1106.1 2120.5,1102.8 2121.4,1101.7 2122.3,1101.1 2123.1,1100.7 2124.0,1104.0 2124.9,1107.7 2125.8,1098.5 2126.7,1105.8 2127.5,1095.7 2128.4,1102.3 2129.3,1108.8 2130.2,1103.8 2131.1,1102.2 2131.9,1111.8 2132.8,1107.0 2133.7,1105.8 2134.6,1107.3 2135.5,1097.6 2136.3,1102.9 2137.2,1113.9 2138.1,1108.5 2139.0,1113.3 2139.9,1100.1 2140.7,1102.8 2141.6,1109.2 2142.5,1109.6 2143.4,1094.6 2144.3,1105.3 2145.2,1103.7 2146.0,1101.8 2146.9,1107.1 2147.8,1100.3 2148.7,1106.7 2149.6,1107.8 2150.4,1101.6 2151.3,1104.6 2152.2,1092.3 2153.1,1106.9 2154.0,1104.3 2154.8,1095.4 2155.7,1095.4 2156.6,1103.7 2157.5,1115.4 2158.4,1105.4 2159.2,1098.6 2160.1,1103.0 2161.0,1093.7 2161.9,1101.3 2162.8,1100.3 2163.6,1105.2 2164.5,1110.8 2165.4,1103.2 2166.3,1115.0 2167.2,1104.5 2168.0,1106.3 2168.9,1104.0 2169.8,1099.6 2170.7,1101.6 2171.6,1102.8 2172.4,1113.0 2173.3,1104.4 2174.2,1097.7 2175.1,1106.9 2176.0,1107.0 2176.8,1099.8 2177.7,1107.7 2178.6,1106.6 2179.5,1098.8 2180.4,1110.4 2181.2,1098.4 2182.1,1101.3 2183.0,1109.1 2183.9,1097.7 2184.8,1093.9 2185.6,1102.6 2186.5,1106.7 2187.4,1106.0 2188.3,1103.6 2189.2,1099.0"/>
<polyline stroke="#f0f" stroke-width="3.8" points="142.5,394.3 143.4,406.9 144.3,405.8 145.1,389.6 146.0,392.0 146.9,390.4 147.8,401.4 148.7,396.0 149.5,404.3 150.4,380.4 151.3,413.8 152.2,399.1 153.1,407.8 153.9,401.5 154.8,400.8 155.7,410.5 156.6,415.7 157.5,407.8 158.3,410.3 159.2,420.2 160.1,407.5 161.0,403.4 161.9,423.6 162.7,415.5 163.6,405.8 164.5,418.7 165.4,424.6 166.3,420.4 167.1,420.4 168.0,437.7 168.9,448.6 169.8,440.5 170.7,438.2 171.5,451.1 172.4,456.2 173.3,448.2 174.2,457.8 175.1,463.9 176.0,453.4 176.8,448.9 177.7,461.1 178.6,461.4 179.5,470.7 180.4,449.2 181.2,456.4 182.1,456.0 183.0,448.9 183.9,467.9 184.8,473.1 185.6,462.4 186.5,483.9 187.4,479.9 188.3,479.4 189.2,478.7 190.0,485.3 190.9,465.0 191.8,485.0 192.7,486.4 193.6,465.4 194.4,487.0 195.3,483.0 196.2,494.5 197.1,484.8 198.0,490.8 198.8,496.3 199.7,486.9 200.6,503.1 201.5,498.7 202.4,506.6 203.2,499.1 204.1,516.5 205.0,514.0 205.9,508.5 206.8,518.0 207.6,525.6 208.5,532.1 209.4,501.4 210.3,526.0 211.2,523.3 212.0,519.1 212.9,511.6 213.8,534.2 214.7,511.3 215.6,529.7 216.4,537.6 217.3,511.0 218.2,524.1 219.1,515.4 220.0,530.9 220.8,543.6 221.7,549.1 222.6,513.6 223.5,525.6 224.4,538.3 225.2,547.1 226.1,536.6 227.0,526.0 227.9,536.3 228.8,533.8 229.6,532.4 230.5,527.8 231.4,538.8 232.3,538.4 233.2,534.9 234.0,534.0 234.9,524.2 235.8,532.1 236.7,548.5 237.6,535.6 238.5,524.0 239.3,550.7 240.2,543.3 241.1,558.5 242.0,539.3 242.9,534.5 243.7,525.2 244.6,551.5 245.5,561.8 246.4,531.2 247.3,532.8 248.1,544.6 249.0,531.0 249.9,536.3 250.8,535.4 251.7,540.5 252.5,549.1 253.4,538.8 254.3,547.3 255.2,534.5 256.1,541.5 256.9,518.0 257.8,524.5 258.7,545.7 259.6,532.5 260.5,543.5 261.3,543.1 262.2,550.4 263.1,545.5 264.0,547.4 264.9,536.5 265.7,530.9 266.6,530.5 267.5,532.7 268.4,526.5 269.3,531.9 270.1,536.1 271.0,539.2 271.9,533.5 272.8,518.3 273.7,535.7 274.5,538.4 275.4,546.4 276.3,541.4 277.2,529.7 278.1,528.7 278.9,554.5 279.8,542.4 280.7,552.4 281.6,555.0 282.5,526.8 283.3,538.0 284.2,538.5 285.1,539.2 286.0,538.8 286.9,535.4 287.7,534.8 288.6,518.7 289.5,531.1 290.4,525.3 291.3,533.4 292.1,527.5 293.0,537.5 293.9,539.1 294.8,534.0 295.7,533.8 296.6,531.3 297.4,525.8 298.3,528.2 299.2,524.7 300.1,532.7 301.0,528.8 301.8,533.8 302.7,515.3 303.6,536.0 304.5,519.9 305.4,519.8 306.2,524.5 307.1,520.7 308.0,528.4 308.9,519.9 309.8,514.8 310.6,516.6 311.5,536.8 312.4,524.5 313.3,512.7 314.2,523.6 315.0,508.4 315.9,539.9 316.8,508.2 317.7,526.9 318.6,527.3 319.4,508.1 320.3,524.4 321.2,530.7 322.1,525.4 323.0,523.1 323.8,529.3 324.7,521.5 325.6,522.8 326.5,518.1 327.4,524.9 328.2,509.6 329.1,525.6 330.0,512.9 330.9,506.9 331.8,520.3 332.6,532.4 333.5,525.0 334.4,510.5 335.3,521.5 336.2,510.1 337.0,512.7 337.9,514.2 338.8,490.8 339.7,514.1 340.6,501.9 341.4,504.4 342.3,496.4 343.2,495.4 344.1,500.2 345.0,516.3 345.8,523.5 346.7,506.6 347.6,516.4 348.5,502.7 349.4,486.1 350.2,504.8 351.1,506.7 352.0,497.5 352.9,503.5 353.8,505.1 354.6,490.6 355.5,483.9 356.4,494.9 357.3,494.1 358.2,491.9 359.1,503.9 359.9,510.1 360.8,489.0 361.7,498.8 362.6,500.4 363.5,497.5 364.3,499.9 365.2,485.6 366.1,495.6 367.0,507.1 367.9,494.7 368.7,480.5 369.6,491.4 370.5,496.9 371.4,487.7 372.3,478.1 373.1,497.4 374.0,470.1 374.9,486.0 375.8,480.3 376.7,468.3 377.5,490.4 378.4,481.3 379.3,466.0 380.2,482.0 381.1,471.3 381.9,456.4 382.8,467.1 383.7,475.2 384.6,477.9 385.5,472.6 386.3,470.6 387.2,473.7 388.1,466.4 389.0,478.8 389.9,468.2 390.7,468.7 391.6,470.3 392.5,454.4 393.4,456.9 394.3,477.3 395.1,465.2 396.0,458.5 396.9,463.6 397.8,455.0 398.7,461.5 399.5,451.7 400.4,459.9 401.3,441.6 402.2,468.5 403.1,450.3 403.9,439.5 404.8,451.7 405.7,449.8 406.6,454.2 407.5,441.4 408.3,455.6 409.2,474.2 410.1,438.9 411.0,453.9 411.9,447.4 412.7,451.9 413.6,432.6 414.5,438.5 415.4,453.6 416.3,448.6 417.1,464.2 418.0,441.7 418.9,449.8 419.8,470.7 420.7,440.4 421.6,438.8 422.4,446.7 423.3,446.4 424.2,454.5 425.1,447.4 426.0,438.6 426.8,447.5 427.7,467.9 428.6,456.8 429.5,421.5 430.4,442.6 431.2,435.2 432.1,449.1 433.0,441.1 433.9,460.7 434.8,450.8 435.6,450.1 436.5,443.1 437.4,440.6 438.3,443.9 439.2,452.6 440.0,445.1 440.9,436.5 441.8,451.7 442.7,441.2 443.6,438.3 444.4,431.3 445.3,433.2 446.2,432.3 447.1,415.3 448.0,447.6 448.8,443.1 449.7,435.4 450.6,447.2 451.5,441.3 452.4,440.5 453.2,414.0 454.1,434.5 455.0,441.7 455.9,451.9 456.8,454.0 457.6,450.1 458.5,425.5 459.4,415.7 460.3,442.0 461.2,436.8 462.0,445.7 462.9,435.4 463.8,438.7 464.7,422.4 465.6,441.0 466.4,432.5 467.3,440.1 468.2,441.2 469.1,435.8 470.0,440.0 470.8,436.9 471.7,444.3 472.6,441.9 473.5,432.0 474.4,431.7 475.2,454.0 476.1,436.7 477.0,447.3 477.9,441.9 478.8,433.2 479.6,431.8 480.5,440.5 481.4,442.2 482.3,446.0 483.2,428.6 484.1,435.5 484.9,440.7 485.8,457.3 486.7,420.1 487.6,447.1 488.5,438.3 489.3,447.9 490.2,439.5 491.1,448.0 492.0,459.8 492.9,448.7 493.7,449.8 494.6,449.6 495.5,439.3 496.4,452.0 497.3,445.3 498.1,439.9 499.0,447.6 499.9,446.2 500.8,455.9 501.7,448.7 502.5,444.4 503.4,463.5 504.3,459.4 505.2,462.3 506.1,456.3 506.9,449.7 507.8,447.0 508.7,448.5 509.6,460.3 510.5,452.6 511.3,437.7 512.2,451.5 513.1,438.7 514.0,453.7 514.9,441.0 515.7,440.6 516.6,453.7 517.5,452.0 518.4,437.3 519.3,460.1 520.1,473.6 521.0,439.6 521.9,470.8 522.8,447.4 523.7,449.5 524.5,452.7 525.4,441.1 526.3,467.1 527.2,459.8 528.1,448.5 528.9,453.2 529.8,442.0 530.7,453.2 531.6,465.6 532.5,441.1 533.3,453.5 534.2,459.3 535.1,468.0 536.0,471.2 536.9,454.8 537.7,452.6 538.6,464.1 539.5,456.9 540.4,457.9 541.3,471.3 542.1,477.4 543.0,464.7 543.9,461.0 544.8,468.7 545.7,446.4 546.6,464.4 547.4,455.3 548.3,487.9 549.2,473.0 550.1,468.3 551.0,465.8 551.8,446.1 552.7,475.5 553.6,484.6 554.5,463.5 555.4,477.1 556.2,478.1 557.1,457.9 558.0,481.4 558.9,485.9 559.8,476.2 560.6,474.2 561.5,482.8 562.4,462.1 563.3,477.8 564.2,487.3 565.0,466.9 565.9,488.2 566.8,476.0 567.7,461.5 568.6,480.3 569.4,473.1 570.3,485.7 571.2,472.8 572.1,493.8 573.0,478.2 573.8,489.0 574.7,481.2 575.6,484.5 576.5,499.2 577.4,491.1 578.2,486.5 579.1,479.5 580.0,502.3 580.9,499.3 581.8,490.5 582.6,496.5 583.5,485.7 584.4,486.7 585.3,489.1 586.2,500.5 587.0,500.6 587.9,491.8 588.8,505.8 589.7,506.7 590.6,501.7 591.4,510.0 592.3,498.4 593.2,500.4 594.1,506.1 595.0,501.9 595.8,509.8 596.7,491.7 597.6,516.2 598.5,496.7 599.4,502.7 600.2,492.2 601.1,510.4 602.0,516.9 602.9,515.6 603.8,513.9 604.7,493.0 605.5,500.5 606.4,504.0 607.3,500.4 608.2,519.5 609.1,511.8 609.9,510.6 610.8,515.9 611.7,503.8 612.6,504.9 613.5,505.9 614.3,519.0 615.2,518.4 616.1,521.2 617.0,526.4 617.9,505.4 618.7,513.3 619.6,520.3 620.5,507.6 621.4,515.6 622.3,529.9 623.1,531.4 624.0,531.7 624.9,523.2 625.8,521.5 626.7,533.6 627.5,521.3 628.4,528.2 629.3,537.5 630.2,523.1 631.1,521.6 631.9,527.5 632.8,533.4 633.7,533.0 634.6,530.7 635.5,534.8 636.3,516.4 637.2,523.6 638.1,533.2 639.0,524.2 639.9,521.2 640.7,523.0 641.6,526.2 642.5,533.3 643.4,526.4 644.3,538.0 645.1,551.2 646.0,535.0 646.9,546.5 647.8,534.2 648.7,513.5 649.5,507.3 650.4,486.1 651.3,494.9 652.2,483.4 653.1,516.6 653.9,523.2 654.8,511.6 655.7,543.9 656.6,555.4 657.5,537.7 658.3,554.8 659.2,531.7 660.1,550.5 661.0,534.7 661.9,554.1 662.7,535.0 663.6,530.4 664.5,555.4 665.4,572.5 666.3,548.1 667.2,561.1 668.0,555.5 668.9,552.4 669.8,561.1 670.7,570.6 671.6,546.3 672.4,562.4 673.3,561.1 674.2,546.4 675.1,573.2 676.0,576.7 676.8,552.2 677.7,575.9 678.6,562.0 679.5,560.6 680.4,575.4 681.2,565.0 682.1,566.3 683.0,577.0 683.9,575.5 684.8,572.6 685.6,553.4 686.5,552.3 687.4,575.9 688.3,558.7 689.2,568.3 690.0,558.3 690.9,566.3 691.8,557.3 692.7,582.5 693.6,560.3 694.4,568.3 695.3,568.1 696.2,580.3 697.1,558.3 698.0,570.5 698.8,569.3 699.7,575.9 700.6,575.7 701.5,568.1 702.4,574.4 703.2,569.5 704.1,577.0 705.0,572.5 705.9,568.1 706.8,573.8 707.6,577.4 708.5,593.8 709.4,570.8 710.3,577.9 711.2,588.0 712.0,558.4 712.9,561.6 713.8,566.6 714.7,576.1 715.6,597.6 716.4,581.0 717.3,588.3 718.2,576.6 719.1,558.7 720.0,559.9 720.8,588.3 721.7,581.7 722.6,569.7 723.5,590.4 724.4,568.6 725.2,591.5 726.1,594.6 727.0,576.5 727.9,574.2 728.8,591.0 729.7,575.3 730.5,592.1 731.4,575.5 732.3,592.7 733.2,587.2 734.1,583.4 734.9,580.0 735.8,590.0 736.7,572.7 737.6,586.7 738.5,586.2 739.3,595.6 740.2,580.0 741.1,605.1 742.0,588.7 742.9,582.3 743.7,603.6 744.6,606.3 745.5,591.4 746.4,586.0 747.3,593.8 748.1,588.3 749.0,591.8 749.9,607.5 750.8,598.2 751.7,596.4 752.5,598.3 753.4,595.2 754.3,602.8 755.2,603.3 756.1,593.2 756.9,597.3 757.8,616.3 758.7,600.2 759.6,595.3 760.5,613.8 761.3,597.2 762.2,588.3 763.1,603.0 764.0,590.2 764.9,593.7 765.7,600.6 766.6,597.0 767.5,591.7 768.4,592.1 769.3,590.5 770.1,603.6 771.0,583.4 771.9,579.0 772.8,594.6 773.7,560.3 774.5,553.1 775.4,512.9 776.3,372.1 777.2,224.5 778.1,197.0 778.9,197.0 779.8,197.0 780.7,197.0 781.6,197.0 782.5,197.0 783.3,220.1 784.2,378.3 785.1,498.7 786.0,540.0 786.9,566.7 787.7,599.8 788.6,599.0 789.5,583.0 790.4,604.1 791.3,604.3 792.2,606.0 793.0,605.3 793.9,598.7 794.8,617.9 795.7,604.0 796.6,609.2 797.4,607.9 798.3,607.4 799.2,619.8 800.1,617.4 801.0,609.5 801.8,608.0 802.7,612.4 803.6,624.5 804.5,618.4 805.4,619.9 806.2,616.2 807.1,617.4 808.0,621.9 808.9,606.3 809.8,634.5 810.6,616.2 811.5,618.7 812.4,634.6 813.3,626.6 814.2,625.9 815.0,621.8 815.9,614.8 816.8,629.4 817.7,638.1 818.6,622.4 819.4,640.9 820.3,622.1 821.2,625.9 822.1,636.4 823.0,633.1 823.8,639.2 824.7,628.6 825.6,627.0 826.5,621.1 827.4,626.9 828.2,628.4 829.1,626.2 830.0,640.2 830.9,633.1 831.8,623.3 832.6,657.8 833.5,633.1 834.4,630.3 835.3,650.0 836.2,649.8 837.0,632.3 837.9,630.1 838.8,634.2 839.7,650.9 840.6,640.2 841.4,636.7 842.3,643.0 843.2,652.8 844.1,633.2 845.0,641.3 845.8,633.9 846.7,661.5 847.6,659.0 848.5,652.7 849.4,644.8 850.2,651.1 851.1,630.4 852.0,648.8 852.9,636.9 853.8,637.3 854.7,642.3 855.5,645.3 856.4,652.7 857.3,654.0 858.2,651.0 859.1,642.2 859.9,654.8 860.8,649.2 861.7,659.3 862.6,643.9 863.5,633.2 864.3,648.0 865.2,668.2 866.1,655.9 867.0,651.4 867.9,659.9 868.7,657.4 869.6,657.5 870.5,650.7 871.4,655.5 872.3,656.9 873.1,651.0 874.0,647.9 874.9,657.7 875.8,664.4 876.7,662.4 877.5,661.7 878.4,662.2 879.3,676.7 880.2,661.3 881.1,667.6 881.9,674.8 882.8,661.2 883.7,663.2 884.6,669.4 885.5,674.6 886.3,664.9 887.2,665.7 888.1,664.2 889.0,655.1 889.9,672.6 890.7,663.0 891.6,652.7 892.5,664.7 893.4,653.6 894.3,659.3 895.1,667.3 896.0,660.9 896.9,675.8 897.8,657.8 898.7,670.8 899.5,673.4 900.4,680.5 901.3,677.0 902.2,672.5 903.1,671.9 903.9,671.3 904.8,680.5 905.7,668.0 906.6,677.0 907.5,673.0 908.3,675.9 909.2,672.7 910.1,690.4 911.0,670.9 911.9,677.9 912.8,678.5 913.6,681.3 914.5,680.7 915.4,680.9 916.3,685.3 917.2,668.1 918.0,679.3 918.9,670.9 919.8,681.7 920.7,672.1 921.6,674.1 922.4,680.9 923.3,691.6 924.2,686.2 925.1,684.6 926.0,692.7 926.8,676.5 927.7,668.8 928.6,680.9 929.5,682.2 930.4,693.2 931.2,699.9 932.1,675.9 933.0,702.2 933.9,696.8 934.8,692.0 935.6,689.0 936.5,703.4 937.4,687.6 938.3,684.1 939.2,688.7 940.0,678.5 940.9,691.6 941.8,687.8 942.7,691.1 943.6,691.6 944.4,682.1 945.3,698.8 946.2,683.0 947.1,696.4 948.0,679.5 948.8,693.3 949.7,685.3 950.6,691.5 951.5,687.0 952.4,676.7 953.2,684.3 954.1,692.6 955.0,696.6 955.9,682.5 956.8,678.2 957.6,687.0 958.5,691.7 959.4,689.0 960.3,687.9 961.2,699.4 962.0,700.3 962.9,698.9 963.8,687.6 964.7,694.6 965.6,692.9 966.4,684.7 967.3,700.4 968.2,695.2 969.1,691.5 970.0,704.4 970.8,700.1 971.7,700.8 972.6,703.2 973.5,700.0 974.4,686.8 975.3,692.8 976.1,702.2 977.0,690.4 977.9,695.9 978.8,698.4 979.7,705.4 980.5,704.6 981.4,702.0 982.3,694.9 983.2,702.3 984.1,699.8 984.9,695.3 985.8,705.4 986.7,699.8 987.6,691.7 988.5,705.1 989.3,695.2 990.2,700.9 991.1,687.1 992.0,697.1 992.9,691.1 993.7,691.1 994.6,685.1 995.5,711.7 996.4,696.9 997.3,699.5 998.1,705.3 999.0,697.5 999.9,701.8 1000.8,689.7 1001.7,700.0 1002.5,696.2 1003.4,702.3 1004.3,700.4 1005.2,690.4 1006.1,687.5 1006.9,693.1 1007.8,704.6 1008.7,702.8 1009.6,702.8 1010.5,687.3 1011.3,685.0 1012.2,696.7 1013.1,698.7 1014.0,697.1 1014.9,703.5 1015.7,700.3 1016.6,693.9 1017.5,696.0 1018.4,702.8 1019.3,702.5 1020.1,701.7 1021.0,716.9 1021.9,700.8 1022.8,703.4 1023.7,696.4 1024.5,700.7 1025.4,706.5 1026.3,706.9 1027.2,702.4 1028.1,706.1 1028.9,704.0 1029.8,691.8 1030.7,688.6 1031.6,718.9 1032.5,709.6 1033.3,704.1 1034.2,693.5 1035.1,696.6 1036.0,713.5 1036.9,689.7 1037.8,703.1 1038.6,710.8 1039.5,706.4 1040.4,710.4 1041.3,704.9 1042.2,721.1 1043.0,699.5 1043.9,697.5 1044.8,708.0 1045.7,715.5 1046.6,706.2 1047.4,713.3 1048.3,703.5 1049.2,699.5 1050.1,715.9 1051.0,717.1 1051.8,717.0 1052.7,704.7 1053.6,700.3 1054.5,700.3 1055.4,706.3 1056.2,711.5 1057.1,711.1 1058.0,699.0 1058.9,709.3 1059.8,708.3 1060.6,708.9 1061.5,708.2 1062.4,707.2 1063.3,712.2 1064.2,709.4 1065.0,710.0 1065.9,704.4 1066.8,711.2 1067.7,708.1 1068.6,695.6 1069.4,711.9 1070.3,707.3 1071.2,714.8 1072.1,708.1 1073.0,708.5 1073.8,710.5 1074.7,709.1 1075.6,706.5 1076.5,698.2 1077.4,720.8 1078.2,699.6 1079.1,707.3 1080.0,713.6 1080.9,711.9 1081.8,713.1 1082.6,714.4 1083.5,717.6 1084.4,711.6 1085.3,724.7 1086.2,703.7 1087.0,711.4 1087.9,707.8 1088.8,706.8 1089.7,712.0 1090.6,719.3 1091.4,706.0 1092.3,706.1 1093.2,715.0 1094.1,714.0 1095.0,722.9 1095.8,717.3 1096.7,712.5 1097.6,709.3 1098.5,712.8 1099.4,710.6 1100.3,703.5 1101.1,712.1 1102.0,711.2 1102.9,711.0 1103.8,710.0 1104.7,723.2 1105.5,717.4 1106.4,719.0 1107.3,709.8 1108.2,707.5 1109.1,712.2 1109.9,715.7 1110.8,712.3 1111.7,713.4 1112.6,720.6 1113.5,716.8 1114.3,709.2 1115.2,712.7 1116.1,711.5 1117.0,716.7 1117.9,708.7 1118.7,714.8 1119.6,720.2 1120.5,716.2 1121.4,710.6 1122.3,712.5 1123.1,717.0 1124.0,719.2 1124.9,721.3 1125.8,715.4 1126.7,708.3 1127.5,724.8 1128.4,718.0 1129.3,718.6 1130.2,718.0 1131.1,709.9 1131.9,714.2 1132.8,717.7 1133.7,722.3 1134.6,716.4 1135.5,701.6 1136.3,714.6 1137.2,718.1 1138.1,723.7 1139.0,720.2 1139.9,730.2 1140.7,724.4 1141.6,723.9 1142.5,721.4 1143.4,707.5 1144.3,720.8 1145.1,719.2 1146.0,712.5 1146.9,719.1 1147.8,718.1 1148.7,712.8 1149.5,714.8 1150.4,713.9 1151.3,716.8 1152.2,712.9 1153.1,718.6 1153.9,703.9 1154.8,713.6 1155.7,705.3 1156.6,712.4 1157.5,718.3 1158.3,715.3 1159.2,714.5 1160.1,715.6 1161.0,724.3 1161.9,708.2 1162.8,719.2 1163.6,703.7 1164.5,707.7 1165.4,708.8 1166.3,700.1 1167.2,704.4 1168.0,706.8 1168.9,696.1 1169.8,704.1 1170.7,704.2 1171.6,697.1 1172.4,709.3 1173.3,707.3 1174.2,720.8 1175.1,708.0 1176.0,722.0 1176.8,705.6 1177.7,711.6 1178.6,685.2 1179.5,652.0 1180.4,606.2 1181.2,552.8 1182.1,516.1 1183.0,513.9 1183.9,523.1 1184.8,553.5 1185.6,586.8 1186.5,635.3 1187.4,671.4 1188.3,690.1 1189.2,702.1 1190.0,707.5 1190.9,710.4 1191.8,715.1 1192.7,720.6 1193.6,709.2 1194.4,724.5 1195.3,712.4 1196.2,720.5 1197.1,718.2 1198.0,720.1 1198.8,716.6 1199.7,716.2 1200.6,721.8 1201.5,717.2 1202.4,737.5 1203.2,721.4 1204.1,720.2 1205.0,721.0 1205.9,718.1 1206.8,710.7 1207.6,723.1 1208.5,726.5 1209.4,716.2 1210.3,724.9 1211.2,718.1 1212.0,724.9 1212.9,727.3 1213.8,728.1 1214.7,727.9 1215.6,721.5 1216.4,730.6 1217.3,723.2 1218.2,727.8 1219.1,729.9 1220.0,724.3 1220.9,718.8 1221.7,729.8 1222.6,720.0 1223.5,721.5 1224.4,720.4 1225.3,731.6 1226.1,726.0 1227.0,714.4 1227.9,731.5 1228.8,739.2 1229.7,737.9 1230.5,724.7 1231.4,728.5 1232.3,731.2 1233.2,733.6 1234.1,729.0 1234.9,722.8 1235.8,733.5 1236.7,732.9 1237.6,722.2 1238.5,727.9 1239.3,731.7 1240.2,730.4 1241.1,733.6 1242.0,735.4 1242.9,734.2 1243.7,730.7 1244.6,724.1 1245.5,735.3 1246.4,739.9 1247.3,743.4 1248.1,732.4 1249.0,732.6 1249.9,741.0 1250.8,741.2 1251.7,735.3 1252.5,737.5 1253.4,729.5 1254.3,737.2 1255.2,729.5 1256.1,733.5 1256.9,733.8 1257.8,732.0 1258.7,723.0 1259.6,730.4 1260.5,737.0 1261.3,734.9 1262.2,733.3 1263.1,738.0 1264.0,739.6 1264.9,740.6 1265.7,731.7 1266.6,736.4 1267.5,734.6 1268.4,731.8 1269.3,728.5 1270.1,736.4 1271.0,732.3 1271.9,749.1 1272.8,736.9 1273.7,736.3 1274.5,735.5 1275.4,748.1 1276.3,732.8 1277.2,737.2 1278.1,734.0 1278.9,737.6 1279.8,738.2 1280.7,744.5 1281.6,730.9 1282.5,738.6 1283.4,747.6 1284.2,736.1 1285.1,738.0 1286.0,734.2 1286.9,726.1 1287.8,738.5 1288.6,745.5 1289.5,736.6 1290.4,729.1 1291.3,740.7 1292.2,739.7 1293.0,744.7 1293.9,744.2 1294.8,737.8 1295.7,741.5 1296.6,729.6 1297.4,745.4 1298.3,740.4 1299.2,745.2 1300.1,745.1 1301.0,737.8 1301.8,738.6 1302.7,734.7 1303.6,728.3 1304.5,738.7 1305.4,740.3 1306.2,733.6 1307.1,743.3 1308.0,740.0 1308.9,742.0 1309.8,735.4 1310.6,730.0 1311.5,743.7 1312.4,742.9 1313.3,739.0 1314.2,737.3 1315.0,738.1 1315.9,738.9 1316.8,736.9 1317.7,728.9 1318.6,743.9 1319.4,731.7 1320.3,738.0 1321.2,738.1 1322.1,741.2 1323.0,731.2 1323.8,746.4 1324.7,743.5 1325.6,744.2 1326.5,747.0 1327.4,736.0 1328.2,727.6 1329.1,742.3 1330.0,747.7 1330.9,747.0 1331.8,738.1 1332.6,740.6 1333.5,742.7 1334.4,731.7 1335.3,737.9 1336.2,738.2 1337.0,750.2 1337.9,738.5 1338.8,750.5 1339.7,742.3 1340.6,733.4 1341.4,754.4 1342.3,737.5 1343.2,746.1 1344.1,752.1 1345.0,740.3 1345.9,736.7 1346.7,748.9 1347.6,743.9 1348.5,737.1 1349.4,738.0 1350.3,741.8 1351.1,749.0 1352.0,742.5 1352.9,747.6 1353.8,752.9 1354.7,751.0 1355.5,751.9 1356.4,750.9 1357.3,735.9 1358.2,751.0 1359.1,746.3 1359.9,743.9 1360.8,738.9 1361.7,736.3 1362.6,738.9 1363.5,744.7 1364.3,738.7 1365.2,740.6 1366.1,741.8 1367.0,748.6 1367.9,743.6 1368.7,744.4 1369.6,752.2 1370.5,743.6 1371.4,748.5 1372.3,739.8 1373.1,747.2 1374.0,746.1 1374.9,746.4 1375.8,743.1 1376.7,740.1 1377.5,744.0 1378.4,743.2 1379.3,751.1 1380.2,750.5 1381.1,739.4 1381.9,749.0 1382.8,743.2 1383.7,748.2 1384.6,743.2 1385.5,738.0 1386.3,751.1 1387.2,748.2 1388.1,739.3 1389.0,735.8 1389.9,743.0 1390.7,739.6 1391.6,743.9 1392.5,749.0 1393.4,753.5 1394.3,743.9 1395.1,753.0 1396.0,751.9 1396.9,743.5 1397.8,737.0 1398.7,750.3 1399.5,749.0 1400.4,758.1 1401.3,753.3 1402.2,749.9 1403.1,754.6 1403.9,740.3 1404.8,746.8 1405.7,744.4 1406.6,754.9 1407.5,748.8 1408.4,733.2 1409.2,753.0 1410.1,741.1 1411.0,749.9 1411.9,743.3 1412.8,747.1 1413.6,749.1 1414.5,746.9 1415.4,740.9 1416.3,753.1 1417.2,747.9 1418.0,745.8 1418.9,749.5 1419.8,743.1 1420.7,755.7 1421.6,747.0 1422.4,747.8 1423.3,747.7 1424.2,741.2 1425.1,739.8 1426.0,747.1 1426.8,747.8 1427.7,753.0 1428.6,748.4 1429.5,740.5 1430.4,748.9 1431.2,750.5 1432.1,751.4 1433.0,748.0 1433.9,740.0 1434.8,752.4 1435.6,742.6 1436.5,749.5 1437.4,738.4 1438.3,750.6 1439.2,742.6 1440.0,752.3 1440.9,755.9 1441.8,752.9 1442.7,740.8 1443.6,742.1 1444.4,742.5 1445.3,750.5 1446.2,748.9 1447.1,748.0 1448.0,748.8 1448.8,750.3 1449.7,750.7 1450.6,756.1 1451.5,747.2 1452.4,748.6 1453.2,738.0 1454.1,740.8 1455.0,744.2 1455.9,741.7 1456.8,749.0 1457.6,753.4 1458.5,745.9 1459.4,745.7 1460.3,745.7 1461.2,749.1 1462.0,745.7 1462.9,750.8 1463.8,750.3 1464.7,750.6 1465.6,752.9 1466.4,749.3 1467.3,749.9 1468.2,758.3 1469.1,749.2 1470.0,753.6 1470.9,749.9 1471.7,747.4 1472.6,747.5 1473.5,745.7 1474.4,750.1 1475.3,747.0 1476.1,748.0 1477.0,756.5 1477.9,749.7 1478.8,756.2 1479.7,751.8 1480.5,754.9 1481.4,747.4 1482.3,751.3 1483.2,762.8 1484.1,754.8 1484.9,755.7 1485.8,751.7 1486.7,754.9 1487.6,744.6 1488.5,746.1 1489.3,752.6 1490.2,754.6 1491.1,748.3 1492.0,749.4 1492.9,748.5 1493.7,749.3 1494.6,744.1 1495.5,742.8 1496.4,749.6 1497.3,741.0 1498.1,744.7 1499.0,746.1 1499.9,743.8 1500.8,749.9 1501.7,745.1 1502.5,743.7 1503.4,731.6 1504.3,719.7 1505.2,709.3 1506.1,696.1 1506.9,691.9 1507.8,703.0 1508.7,711.3 1509.6,717.5 1510.5,725.8 1511.3,716.2 1512.2,726.4 1513.1,734.8 1514.0,738.9 1514.9,738.9 1515.7,750.7 1516.6,749.5 1517.5,748.9 1518.4,749.1 1519.3,749.3 1520.1,744.8 1521.0,750.9 1521.9,740.4 1522.8,749.4 1523.7,742.1 1524.5,747.9 1525.4,753.3 1526.3,748.4 1527.2,747.3 1528.1,752.4 1529.0,748.4 1529.8,747.8 1530.7,747.8 1531.6,757.4 1532.5,753.2 1533.4,752.3 1534.2,743.9 1535.1,753.0 1536.0,743.4 1536.9,752.3 1537.8,744.3 1538.6,759.8 1539.5,741.5 1540.4,756.1 1541.3,754.0 1542.2,741.1 1543.0,748.8 1543.9,757.3 1544.8,755.8 1545.7,741.8 1546.6,747.5 1547.4,744.3 1548.3,745.0 1549.2,747.0 1550.1,759.4 1551.0,750.9 1551.8,749.1 1552.7,748.6 1553.6,753.6 1554.5,753.8 1555.4,745.8 1556.2,757.7 1557.1,745.0 1558.0,749.1 1558.9,752.7 1559.8,759.0 1560.6,748.8 1561.5,752.0 1562.4,757.1 1563.3,753.7 1564.2,756.2 1565.0,755.8 1565.9,752.0 1566.8,753.9 1567.7,755.3 1568.6,750.6 1569.4,758.8 1570.3,741.0 1571.2,746.3 1572.1,758.1 1573.0,753.1 1573.8,747.8 1574.7,752.9 1575.6,756.4 1576.5,748.3 1577.4,754.9 1578.2,750.5 1579.1,750.6 1580.0,750.8 1580.9,756.7 1581.8,745.7 1582.6,749.5 1583.5,754.6 1584.4,745.3 1585.3,743.5 1586.2,754.2 1587.0,751.4 1587.9,750.7 1588.8,752.2 1589.7,746.7 1590.6,763.7 1591.5,746.7 1592.3,749.4 1593.2,744.6 1594.1,749.6 1595.0,759.2 1595.9,751.8 1596.7,754.6 1597.6,749.3 1598.5,760.7 1599.4,752.6 1600.3,745.6 1601.1,755.6 1602.0,750.0 1602.9,754.8 1603.8,752.5 1604.7,753.2 1605.5,752.6 1606.4,747.5 1607.3,744.6 1608.2,756.8 1609.1,751.3 1609.9,753.4 1610.8,749.8 1611.7,742.1 1612.6,745.8 1613.5,758.9 1614.3,748.3 1615.2,750.3 1616.1,745.0 1617.0,749.6 1617.9,750.4 1618.7,751.2 1619.6,751.9 1620.5,749.2 1621.4,749.5 1622.3,752.3 1623.1,753.9 1624.0,751.7 1624.9,760.9 1625.8,753.4 1626.7,753.2 1627.5,749.2 1628.4,757.5 1629.3,747.5 1630.2,744.6 1631.1,747.8 1631.9,755.6 1632.8,747.0 1633.7,758.9 1634.6,752.5 1635.5,745.3 1636.3,751.5 1637.2,761.3 1638.1,748.5 1639.0,746.4 1639.9,755.2 1640.7,759.1 1641.6,757.7 1642.5,751.2 1643.4,753.7 1644.3,754.4 1645.1,758.6 1646.0,763.3 1646.9,752.4 1647.8,759.2 1648.7,751.3 1649.5,755.8 1650.4,748.5 1651.3,749.3 1652.2,755.1 1653.1,748.7 1654.0,757.4 1654.8,750.5 1655.7,753.5 1656.6,752.8 1657.5,751.6 1658.4,753.8 1659.2,758.4 1660.1,765.2 1661.0,747.5 1661.9,754.7 1662.8,752.5 1663.6,748.9 1664.5,754.7 1665.4,749.1 1666.3,753.0 1667.2,759.4 1668.0,743.7 1668.9,754.7 1669.8,755.6 1670.7,748.9 1671.6,756.0 1672.4,755.2 1673.3,751.9 1674.2,759.4 1675.1,747.3 1676.0,756.7 1676.8,752.5 1677.7,748.6 1678.6,752.8 1679.5,752.0 1680.4,757.7 1681.2,746.6 1682.1,752.9 1683.0,751.6 1683.9,761.4 1684.8,748.5 1685.6,758.9 1686.5,745.5 1687.4,755.5 1688.3,753.3 1689.2,755.7 1690.0,750.6 1690.9,744.7 1691.8,746.6 1692.7,760.3 1693.6,755.0 1694.4,749.9 1695.3,758.3 1696.2,750.5 1697.1,750.6 1698.0,748.3 1698.8,759.7 1699.7,763.5 1700.6,749.6 1701.5,755.6 1702.4,758.9 1703.2,764.3 1704.1,743.2 1705.0,754.9 1705.9,757.3 1706.8,747.3 1707.6,756.2 1708.5,755.3 1709.4,757.8 1710.3,751.6 1711.2,756.4 1712.0,751.5 1712.9,757.3 1713.8,755.2 1714.7,752.7 1715.6,747.8 1716.5,762.3 1717.3,759.8 1718.2,758.7 1719.1,751.5 1720.0,753.0 1720.9,762.5 1721.7,758.2 1722.6,750.7 1723.5,754.9 1724.4,755.4 1725.3,753.8 1726.1,750.3 1727.0,760.7 1727.9,757.6 1728.8,754.0 1729.7,747.5 1730.5,752.2 1731.4,755.0 1732.3,759.1 1733.2,753.3 1734.1,760.3 1734.9,755.8 1735.8,751.6 1736.7,744.3 1737.6,749.7 1738.5,748.2 1739.3,754.5 1740.2,756.9 1741.1,761.9 1742.0,755.3 1742.9,750.0 1743.7,766.5 1744.6,756.9 1745.5,754.3 1746.4,754.3 1747.3,749.2 1748.1,758.6 1749.0,757.4 1749.9,763.1 1750.8,760.8 1751.7,759.8 1752.5,761.6 1753.4,754.5 1754.3,753.7 1755.2,755.6 1756.1,750.1 1756.9,755.3 1757.8,754.4 1758.7,759.1 1759.6,756.0 1760.5,747.2 1761.3,756.2 1762.2,762.7 1763.1,747.6 1764.0,752.7 1764.9,756.3 1765.7,750.1 1766.6,753.7 1767.5,756.6 1768.4,750.2 1769.3,757.7 1770.1,758.3 1771.0,750.5 1771.9,756.6 1772.8,761.5 1773.7,755.7 1774.5,758.6 1775.4,759.5 1776.3,755.5 1777.2,761.1 1778.1,758.4 1779.0,752.0 1779.8,759.0 1780.7,760.6 1781.6,760.3 1782.5,753.6 1783.4,758.7 1784.2,762.8 1785.1,757.4 1786.0,761.5 1786.9,761.4 1787.8,753.5 1788.6,753.2 1789.5,743.0 1790.4,742.1 1791.3,731.0 1792.2,727.9 1793.0,732.1 1793.9,735.1 1794.8,741.1 1795.7,745.5 1796.6,741.7 1797.4,747.1 1798.3,754.1 1799.2,756.3 1800.1,755.6 1801.0,767.1 1801.8,761.6 1802.7,756.4 1803.6,760.3 1804.5,763.3 1805.4,758.9 1806.2,749.3 1807.1,757.9 1808.0,757.7 1808.9,767.4 1809.8,749.2 1810.6,764.8 1811.5,757.0 1812.4,762.1 1813.3,756.5 1814.2,758.7 1815.0,763.2 1815.9,758.4 1816.8,762.9 1817.7,757.8 1818.6,756.3 1819.4,757.2 1820.3,756.0 1821.2,757.8 1822.1,764.6 1823.0,753.0 1823.8,750.8 1824.7,758.4 1825.6,766.2 1826.5,763.4 1827.4,764.7 1828.2,764.4 1829.1,755.4 1830.0,759.3 1830.9,747.8 1831.8,756.1 1832.6,761.7 1833.5,751.8 1834.4,749.6 1835.3,753.1 1836.2,760.1 1837.1,764.5 1837.9,770.0 1838.8,765.8 1839.7,752.4 1840.6,748.7 1841.5,760.1 1842.3,764.3 1843.2,752.1 1844.1,757.2 1845.0,757.6 1845.9,759.8 1846.7,758.9 1847.6,762.1 1848.5,764.6 1849.4,760.2 1850.3,763.4 1851.1,769.1 1852.0,755.4 1852.9,755.4 1853.8,762.5 1854.7,768.7 1855.5,761.1 1856.4,765.3 1857.3,759.0 1858.2,764.7 1859.1,757.7 1859.9,763.7 1860.8,762.5 1861.7,762.6 1862.6,767.1 1863.5,765.8 1864.3,758.3 1865.2,765.1 1866.1,753.5 1867.0,765.8 1867.9,771.8 1868.7,763.9 1869.6,763.9 1870.5,761.9 1871.4,765.5 1872.3,759.8 1873.1,765.0 1874.0,760.8 1874.9,760.2 1875.8,762.8 1876.7,762.1 1877.5,754.6 1878.4,771.9 1879.3,763.3 1880.2,755.1 1881.1,767.7 1881.9,762.8 1882.8,763.9 1883.7,766.3 1884.6,759.2 1885.5,751.9 1886.3,763.0 1887.2,764.6 1888.1,768.1 1889.0,760.3 1889.9,762.6 1890.7,765.7 1891.6,762.6 1892.5,763.0 1893.4,765.4 1894.3,759.8 1895.1,771.5 1896.0,760.3 1896.9,764.8 1897.8,763.2 1898.7,761.6 1899.6,767.3 1900.4,769.5 1901.3,771.6 1902.2,767.8 1903.1,763.3 1904.0,769.3 1904.8,759.0 1905.7,765.8 1906.6,768.0 1907.5,768.3 1908.4,760.7 1909.2,759.2 1910.1,773.5 1911.0,763.8 1911.9,758.8 1912.8,760.7 1913.6,766.4 1914.5,771.7 1915.4,766.5 1916.3,772.0 1917.2,767.7 1918.0,768.8 1918.9,771.2 1919.8,765.2 1920.7,768.3 1921.6,765.3 1922.4,764.2 1923.3,770.1 1924.2,763.6 1925.1,767.7 1926.0,763.8 1926.8,767.0 1927.7,765.2 1928.6,772.5 1929.5,768.0 1930.4,768.1 1931.2,775.2 1932.1,756.8 1933.0,762.9 1933.9,757.0 1934.8,768.0 1935.6,770.1 1936.5,771.1 1937.4,769.5 1938.3,764.5 1939.2,776.2 1940.0,769.9 1940.9,767.4 1941.8,763.6 1942.7,770.6 1943.6,766.6 1944.4,766.9 1945.3,769.9 1946.2,770.0 1947.1,765.4 1948.0,774.7 1948.8,764.8 1949.7,764.3 1950.6,770.8 1951.5,770.0 1952.4,769.8 1953.2,767.8 1954.1,769.9 1955.0,767.2 1955.9,762.5 1956.8,773.2 1957.6,765.5 1958.5,769.0 1959.4,773.4 1960.3,770.3 1961.2,780.8 1962.1,764.1 1962.9,767.1 1963.8,770.8 1964.7,776.5 1965.6,769.5 1966.5,764.3 1967.3,775.8 1968.2,766.7 1969.1,769.9 1970.0,774.8 1970.9,767.9 1971.7,769.0 1972.6,773.2 1973.5,770.2 1974.4,772.4 1975.3,767.0 1976.1,770.7 1977.0,766.4 1977.9,764.4 1978.8,779.1 1979.7,773.4 1980.5,775.4 1981.4,767.2 1982.3,771.3 1983.2,770.6 1984.1,765.2 1984.9,774.0 1985.8,768.4 1986.7,770.7 1987.6,764.9 1988.5,776.0 1989.3,775.0 1990.2,773.4 1991.1,767.7 1992.0,769.3 1992.9,777.1 1993.7,770.5 1994.6,772.9 1995.5,772.4 1996.4,766.8 1997.3,778.5 1998.1,763.1 1999.0,772.8 1999.9,771.4 2000.8,764.7 2001.7,773.3 2002.5,774.1 2003.4,772.1 2004.3,768.2 2005.2,773.9 2006.1,776.8 2006.9,772.9 2007.8,779.5 2008.7,775.7 2009.6,775.3 2010.5,778.0 2011.3,769.0 2012.2,769.7 2013.1,774.2 2014.0,774.2 2014.9,778.6 2015.7,777.0 2016.6,772.8 2017.5,773.0 2018.4,770.8 2019.3,770.4 2020.1,770.1 2021.0,776.0 2021.9,770.0 2022.8,770.5 2023.7,772.8 2024.6,769.9 2025.4,771.1 2026.3,762.6 2027.2,773.8 2028.1,770.8 2029.0,773.0 2029.8,773.8 2030.7,764.1 2031.6,782.6 2032.5,773.0 2033.4,773.1 2034.2,764.6 2035.1,775.2 2036.0,774.3 2036.9,771.0 2037.8,773.7 2038.6,778.2 2039.5,771.2 2040.4,768.8 2041.3,778.6 2042.2,774.0 2043.0,772.1 2043.9,782.7 2044.8,773.6 2045.7,772.1 2046.6,774.0 2047.4,771.1 2048.3,773.7 2049.2,773.4 2050.1,769.8 2051.0,771.4 2051.8,773.6 2052.7,773.4 2053.6,772.7 2054.5,769.2 2055.4,757.5 2056.2,744.7 2057.1,729.1 2058.0,729.6 2058.9,743.9 2059.8,741.0 2060.6,757.6 2061.5,767.2 2062.4,748.1 2063.3,763.0 2064.2,751.6 2065.0,764.8 2065.9,774.1 2066.8,776.4 2067.7,767.8 2068.6,767.1 2069.4,767.0 2070.3,776.6 2071.2,772.0 2072.1,773.8 2073.0,775.0 2073.8,775.8 2074.7,776.4 2075.6,774.7 2076.5,767.3 2077.4,780.6 2078.2,763.8 2079.1,779.8 2080.0,771.9 2080.9,773.8 2081.8,772.4 2082.6,773.1 2083.5,774.7 2084.4,773.6 2085.3,770.2 2086.2,778.6 2087.1,772.5 2087.9,780.8 2088.8,774.4 2089.7,772.1 2090.6,777.1 2091.5,779.1 2092.3,771.3 2093.2,774.1 2094.1,781.5 2095.0,771.1 2095.9,771.8 2096.7,776.3 2097.6,770.4 2098.5,765.1 2099.4,768.5 2100.3,777.3 2101.1,778.6 2102.0,778.4 2102.9,777.5 2103.8,770.6 2104.7,778.9 2105.5,781.0 2106.4,773.1 2107.3,780.2 2108.2,774.6 2109.1,777.0 2109.9,777.8 2110.8,769.9 2111.7,782.6 2112.6,772.7 2113.5,776.0 2114.3,774.4 2115.2,778.5 2116.1,778.4 2117.0,776.7 2117.9,782.7 2118.7,777.9 2119.6,775.1 2120.5,766.4 2121.4,775.6 2122.3,775.7 2123.1,773.2 2124.0,773.3 2124.9,779.6 2125.8,781.5 2126.7,785.2 2127.5,782.1 2128.4,774.2 2129.3,778.4 2130.2,771.5 2131.1,780.5 2131.9,778.9 2132.8,774.8 2133.7,777.0 2134.6,776.5 2135.5,774.8 2136.3,783.2 2137.2,787.7 2138.1,781.2 2139.0,782.2 2139.9,778.5 2140.7,776.3 2141.6,787.2 2142.5,776.4 2143.4,779.6 2144.3,777.5 2145.2,780.5 2146.0,777.9 2146.9,780.6 2147.8,772.8 2148.7,777.8 2149.6,784.1 2150.4,773.9 2151.3,775.5 2152.2,784.2 2153.1,780.1 2154.0,783.0 2154.8,769.0 2155.7,779.1 2156.6,773.1 2157.5,772.7 2158.4,780.4 2159.2,783.7 2160.1,772.4 2161.0,774.0 2161.9,776.3 2162.8,778.3 2163.6,773.2 2164.5,788.5 2165.4,781.4 2166.3,777.4 2167.2,776.8 2168.0,788.9 2168.9,788.6 2169.8,777.0 2170.7,780.6 2171.6,784.5 2172.4,774.2 2173.3,776.7 2174.2,785.0 2175.1,776.4 2176.0,777.5 2176.8,773.7 2177.7,776.2 2178.6,782.3 2179.5,776.0 2180.4,774.0 2181.2,776.9 2182.1,787.0 2183.0,780.3 2183.9,777.2 2184.8,780.3 2185.6,781.5 2186.5,780.2 2187.4,772.1 2188.3,781.0 2189.2,778.9 2190.0,783.4 2190.9,774.1"/>
<rect x="760" y="186" width="40" height="24" fill="#fff" stroke="none"/>
</g>
<line x1="401.3" y1="210.4" x2="405.8" y2="1194.2" stroke="#000" stroke-width="9.2" stroke-linecap="round" stroke-dasharray="28.1 40.13" fill="none" shape-rendering="crispEdges"/>
<line x1="457.4" y1="162.5" x2="459.5" y2="1419.3" stroke="#f0f" stroke-width="9.2" stroke-linecap="round" stroke-dasharray="28.1 40.13" fill="none" shape-rendering="crispEdges"/>
<line x1="507.5" y1="106.3" x2="507.5" y2="1498.4" stroke="#00f" stroke-width="9.2" stroke-linecap="round" stroke-dasharray="28.1 40.13" fill="none" shape-rendering="crispEdges"/>
<line x1="1127.5" y1="945.3" x2="1127.5" y2="1518.3" stroke="#000" stroke-width="9.2" stroke-linecap="round" stroke-dasharray="28.1 40.13" fill="none" shape-rendering="crispEdges"/>
<text transform="translate(143.6,1659.8) scale(0.93,1)" font-size="64.8" text-anchor="middle" stroke="#fff" stroke-width="0.5" paint-order="fill">10</text>
<text transform="translate(436.0,1659.8) scale(0.93,1)" font-size="64.8" text-anchor="middle" stroke="#fff" stroke-width="0.5" paint-order="fill">20</text>
<text transform="translate(729.5,1659.8) scale(0.93,1)" font-size="64.8" text-anchor="middle" stroke="#fff" stroke-width="0.5" paint-order="fill">30</text>
<text transform="translate(1022.9,1659.8) scale(0.93,1)" font-size="64.8" text-anchor="middle" stroke="#fff" stroke-width="0.5" paint-order="fill">40</text>
<text transform="translate(1316.3,1659.8) scale(0.93,1)" font-size="64.8" text-anchor="middle" stroke="#fff" stroke-width="0.5" paint-order="fill">50</text>
<text transform="translate(1609.7,1659.8) scale(0.93,1)" font-size="64.8" text-anchor="middle" stroke="#fff" stroke-width="0.5" paint-order="fill">60</text>
<text transform="translate(1903.2,1659.8) scale(0.93,1)" font-size="64.8" text-anchor="middle" stroke="#fff" stroke-width="0.5" paint-order="fill">70</text>
<text transform="translate(2196.6,1659.8) scale(0.93,1)" font-size="64.8" text-anchor="middle" stroke="#fff" stroke-width="0.5" paint-order="fill">80</text>
<rect x="113.5" y="1654.4" width="11.6" height="6" fill="#fff"/>
<rect x="130.1" y="1654.4" width="10.6" height="6" fill="#fff"/>
<text x="1170" y="1777" font-size="75" text-anchor="middle">2 theta, degrees</text>
<text transform="translate(77.8,826.3) rotate(-90)" font-size="75" letter-spacing="0.72" text-anchor="middle">Intensity, a.u.</text>
</svg></body></html>
